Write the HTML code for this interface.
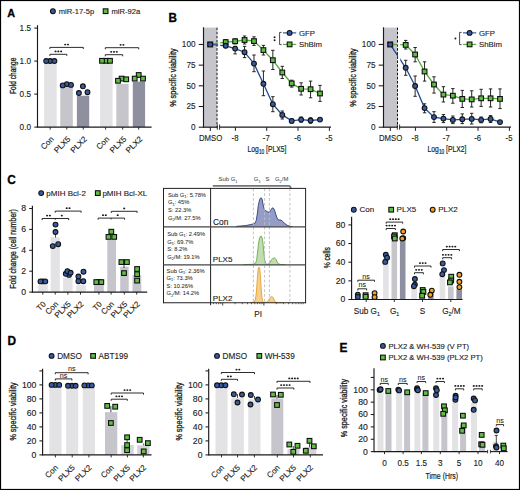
<!DOCTYPE html><html><head><meta charset="utf-8"><style>html,body{margin:0;padding:0;background:#fff;}svg{display:block;}text{font-family:'Liberation Sans', sans-serif;}</style></head><body>
<svg width="520" height="490" viewBox="0 0 520 490">
<rect x="0" y="0" width="520" height="490" fill="#fff"/>
<text transform="translate(7.2,16.7) scale(0.96,1)" font-size="11.3" text-anchor="start" font-weight="bold" fill="#000" stroke="#000" stroke-width="0.3" >A</text>
<text transform="translate(168.5,22) scale(0.96,1)" font-size="12.2" text-anchor="start" font-weight="bold" fill="#000" stroke="#000" stroke-width="0.3" >B</text>
<text transform="translate(7.2,184.3) scale(0.96,1)" font-size="12.4" text-anchor="start" font-weight="bold" fill="#000" stroke="#000" stroke-width="0.3" >C</text>
<text transform="translate(7.6,345.4) scale(0.96,1)" font-size="12.4" text-anchor="start" font-weight="bold" fill="#000" stroke="#000" stroke-width="0.3" >D</text>
<text transform="translate(339.4,351.6) scale(0.96,1)" font-size="12.4" text-anchor="start" font-weight="bold" fill="#000" stroke="#000" stroke-width="0.3" >E</text>
<circle cx="52.9" cy="11.2" r="2.4" fill="#375aa2" stroke="#111" stroke-width="1.1"/>
<text x="58.7" y="14" font-size="7.6" text-anchor="start" font-weight="normal" fill="#1a1a1a" stroke="#1a1a1a" stroke-width="0.12" >miR-17-5p</text>
<rect x="103.25" y="8.85" width="4.7" height="4.7" fill="#5fbf43" stroke="#111" stroke-width="1.1"/>
<text x="111.5" y="14" font-size="7.6" text-anchor="start" font-weight="normal" fill="#1a1a1a" stroke="#1a1a1a" stroke-width="0.12" >miR-92a</text>
<rect x="44.2" y="61.1" width="12.5" height="66" fill="#e3e3e6"/>
<rect x="60.3" y="85.85" width="12.5" height="41.25" fill="#c6c5cc"/>
<rect x="76.9" y="95.75" width="12.3" height="31.35" fill="#8f909f"/>
<rect x="100.1" y="61.1" width="12.5" height="66" fill="#e3e3e6"/>
<rect x="116.3" y="83.87" width="12.3" height="43.23" fill="#c6c5cc"/>
<rect x="132.8" y="81.56" width="12.3" height="45.54" fill="#8f909f"/>
<line x1="37.5" y1="25.2" x2="37.5" y2="127.67" stroke="#1a1a1a" stroke-width="1.15" />
<line x1="34.3" y1="28.1" x2="37.5" y2="28.1" stroke="#1a1a1a" stroke-width="1.05" />
<text x="31" y="31" font-size="8.2" text-anchor="end" font-weight="normal" fill="#1a1a1a" stroke="#1a1a1a" stroke-width="0.12" >1.5</text>
<line x1="34.3" y1="61.1" x2="37.5" y2="61.1" stroke="#1a1a1a" stroke-width="1.05" />
<text x="31" y="64" font-size="8.2" text-anchor="end" font-weight="normal" fill="#1a1a1a" stroke="#1a1a1a" stroke-width="0.12" >1.0</text>
<line x1="34.3" y1="94.1" x2="37.5" y2="94.1" stroke="#1a1a1a" stroke-width="1.05" />
<text x="31" y="97" font-size="8.2" text-anchor="end" font-weight="normal" fill="#1a1a1a" stroke="#1a1a1a" stroke-width="0.12" >0.5</text>
<line x1="34.3" y1="127.1" x2="37.5" y2="127.1" stroke="#1a1a1a" stroke-width="1.05" />
<text x="31" y="130" font-size="8.2" text-anchor="end" font-weight="normal" fill="#1a1a1a" stroke="#1a1a1a" stroke-width="0.12" >0.0</text>
<line x1="37.4" y1="127.1" x2="151.6" y2="127.1" stroke="#1a1a1a" stroke-width="1.1" />
<line x1="50.2" y1="127.1" x2="50.2" y2="129.6" stroke="#1a1a1a" stroke-width="0.9" />
<line x1="66.8" y1="127.1" x2="66.8" y2="129.6" stroke="#1a1a1a" stroke-width="0.9" />
<line x1="83.3" y1="127.1" x2="83.3" y2="129.6" stroke="#1a1a1a" stroke-width="0.9" />
<line x1="105.6" y1="127.1" x2="105.6" y2="129.6" stroke="#1a1a1a" stroke-width="0.9" />
<line x1="122.7" y1="127.1" x2="122.7" y2="129.6" stroke="#1a1a1a" stroke-width="0.9" />
<line x1="138.7" y1="127.1" x2="138.7" y2="129.6" stroke="#1a1a1a" stroke-width="0.9" />
<text transform="translate(16,75.8) rotate(-90)" font-size="9.3" text-anchor="middle" fill="#1a1a1a" stroke="#1a1a1a" stroke-width="0.3" textLength="36.4" lengthAdjust="spacingAndGlyphs" >Fold change</text>
<circle cx="50.2" cy="61" r="2.4" fill="#375aa2" stroke="#111" stroke-width="1.1"/>
<circle cx="46.2" cy="61" r="2.4" fill="#375aa2" stroke="#111" stroke-width="1.1"/>
<circle cx="54.4" cy="61" r="2.4" fill="#375aa2" stroke="#111" stroke-width="1.1"/>
<line x1="66.8" y1="82.5" x2="66.8" y2="86.5" stroke="#1a1a1a" stroke-width="0.8" />
<circle cx="66.8" cy="84.1" r="2.4" fill="#375aa2" stroke="#111" stroke-width="1.1"/>
<circle cx="62.7" cy="85.4" r="2.4" fill="#375aa2" stroke="#111" stroke-width="1.1"/>
<circle cx="71" cy="84.9" r="2.4" fill="#375aa2" stroke="#111" stroke-width="1.1"/>
<circle cx="82.9" cy="86.3" r="2.4" fill="#375aa2" stroke="#111" stroke-width="1.1"/>
<circle cx="78.9" cy="93" r="2.4" fill="#375aa2" stroke="#111" stroke-width="1.1"/>
<circle cx="87.5" cy="92.2" r="2.4" fill="#375aa2" stroke="#111" stroke-width="1.1"/>
<rect x="103.65" y="58.45" width="4.7" height="4.7" fill="#5fbf43" stroke="#111" stroke-width="1.1"/>
<rect x="99.65" y="58.45" width="4.7" height="4.7" fill="#5fbf43" stroke="#111" stroke-width="1.1"/>
<rect x="107.65" y="58.45" width="4.7" height="4.7" fill="#5fbf43" stroke="#111" stroke-width="1.1"/>
<rect x="119.25" y="76.25" width="4.7" height="4.7" fill="#5fbf43" stroke="#111" stroke-width="1.1"/>
<rect x="115.65" y="78.45" width="4.7" height="4.7" fill="#5fbf43" stroke="#111" stroke-width="1.1"/>
<rect x="123.85" y="76.95" width="4.7" height="4.7" fill="#5fbf43" stroke="#111" stroke-width="1.1"/>
<rect x="136.35" y="72.65" width="4.7" height="4.7" fill="#5fbf43" stroke="#111" stroke-width="1.1"/>
<rect x="132.35" y="76.25" width="4.7" height="4.7" fill="#5fbf43" stroke="#111" stroke-width="1.1"/>
<rect x="140.65" y="76.25" width="4.7" height="4.7" fill="#5fbf43" stroke="#111" stroke-width="1.1"/>
<path d="M49.9,49 L49.9,47.4 L83.3,47.4 L83.3,49" fill="none" stroke="#151515" stroke-width="0.9"/>
<ellipse cx="65.2" cy="44.5" rx="1.05" ry="0.85" fill="#1a1a1a"/>
<ellipse cx="68" cy="44.5" rx="1.05" ry="0.85" fill="#1a1a1a"/>
<path d="M49.9,55.9 L49.9,54.3 L66.8,54.3 L66.8,55.9" fill="none" stroke="#151515" stroke-width="0.9"/>
<ellipse cx="55.55" cy="51.4" rx="1.05" ry="0.85" fill="#1a1a1a"/>
<ellipse cx="58.35" cy="51.4" rx="1.05" ry="0.85" fill="#1a1a1a"/>
<ellipse cx="61.15" cy="51.4" rx="1.05" ry="0.85" fill="#1a1a1a"/>
<path d="M105.3,49.3 L105.3,47.7 L138.7,47.7 L138.7,49.3" fill="none" stroke="#151515" stroke-width="0.9"/>
<ellipse cx="120.6" cy="44.8" rx="1.05" ry="0.85" fill="#1a1a1a"/>
<ellipse cx="123.4" cy="44.8" rx="1.05" ry="0.85" fill="#1a1a1a"/>
<path d="M105.3,56.3 L105.3,54.7 L122.7,54.7 L122.7,56.3" fill="none" stroke="#151515" stroke-width="0.9"/>
<ellipse cx="111.2" cy="51.8" rx="1.05" ry="0.85" fill="#1a1a1a"/>
<ellipse cx="114" cy="51.8" rx="1.05" ry="0.85" fill="#1a1a1a"/>
<ellipse cx="116.8" cy="51.8" rx="1.05" ry="0.85" fill="#1a1a1a"/>
<text transform="translate(54.4,139.7) rotate(-45) scale(1,1)" font-size="8" text-anchor="end" fill="#1a1a1a" stroke="#1a1a1a" stroke-width="0.12" >Con</text>
<text transform="translate(71,139.7) rotate(-45) scale(1,1)" font-size="8" text-anchor="end" fill="#1a1a1a" stroke="#1a1a1a" stroke-width="0.12" >PLX5</text>
<text transform="translate(87.5,139.7) rotate(-45) scale(1,1)" font-size="8" text-anchor="end" fill="#1a1a1a" stroke="#1a1a1a" stroke-width="0.12" >PLX2</text>
<text transform="translate(109.8,139.7) rotate(-45) scale(1,1)" font-size="8" text-anchor="end" fill="#1a1a1a" stroke="#1a1a1a" stroke-width="0.12" >Con</text>
<text transform="translate(126.9,139.7) rotate(-45) scale(1,1)" font-size="8" text-anchor="end" fill="#1a1a1a" stroke="#1a1a1a" stroke-width="0.12" >PLX5</text>
<text transform="translate(142.9,139.7) rotate(-45) scale(1,1)" font-size="8" text-anchor="end" fill="#1a1a1a" stroke="#1a1a1a" stroke-width="0.12" >PLX2</text>
<rect x="203.5" y="27.6" width="13.3" height="99.6" fill="#c6c5cc"/>
<line x1="217" y1="27.6" x2="217" y2="127.2" stroke="#111" stroke-width="1" stroke-dasharray="2.6,1.5"/>
<line x1="203.5" y1="27.3" x2="203.5" y2="127.78" stroke="#1a1a1a" stroke-width="1.15" />
<line x1="198.7" y1="44.44" x2="203.5" y2="44.44" stroke="#1a1a1a" stroke-width="1.05" />
<text x="195.5" y="47.34" font-size="8.2" text-anchor="end" font-weight="normal" fill="#1a1a1a" stroke="#1a1a1a" stroke-width="0.12" >100</text>
<line x1="198.7" y1="65.13" x2="203.5" y2="65.13" stroke="#1a1a1a" stroke-width="1.05" />
<text x="195.5" y="68.03" font-size="8.2" text-anchor="end" font-weight="normal" fill="#1a1a1a" stroke="#1a1a1a" stroke-width="0.12" >75</text>
<line x1="198.7" y1="85.82" x2="203.5" y2="85.82" stroke="#1a1a1a" stroke-width="1.05" />
<text x="195.5" y="88.72" font-size="8.2" text-anchor="end" font-weight="normal" fill="#1a1a1a" stroke="#1a1a1a" stroke-width="0.12" >50</text>
<line x1="198.7" y1="106.51" x2="203.5" y2="106.51" stroke="#1a1a1a" stroke-width="1.05" />
<text x="195.5" y="109.41" font-size="8.2" text-anchor="end" font-weight="normal" fill="#1a1a1a" stroke="#1a1a1a" stroke-width="0.12" >25</text>
<line x1="198.7" y1="127.2" x2="203.5" y2="127.2" stroke="#1a1a1a" stroke-width="1.05" />
<text x="195.5" y="130.1" font-size="8.2" text-anchor="end" font-weight="normal" fill="#1a1a1a" stroke="#1a1a1a" stroke-width="0.12" >0</text>
<line x1="203.5" y1="127.2" x2="217.3" y2="127.2" stroke="#1a1a1a" stroke-width="1.2" />
<line x1="210.3" y1="127.2" x2="210.3" y2="131" stroke="#1a1a1a" stroke-width="1" />
<line x1="217.3" y1="124.5" x2="217.3" y2="129.7" stroke="#1a1a1a" stroke-width="0.9" />
<line x1="219.6" y1="124.5" x2="219.6" y2="129.7" stroke="#1a1a1a" stroke-width="0.9" />
<line x1="219.6" y1="127.2" x2="331" y2="127.2" stroke="#1a1a1a" stroke-width="1.2" />
<line x1="235.4" y1="127.2" x2="235.4" y2="130.8" stroke="#1a1a1a" stroke-width="1" />
<line x1="266.7" y1="127.2" x2="266.7" y2="130.8" stroke="#1a1a1a" stroke-width="1" />
<line x1="298" y1="127.2" x2="298" y2="130.8" stroke="#1a1a1a" stroke-width="1" />
<line x1="329.4" y1="127.2" x2="329.4" y2="130.8" stroke="#1a1a1a" stroke-width="1" />
<text transform="translate(210.6,140.6) scale(0.95,1)" font-size="8.2" text-anchor="middle" font-weight="normal" fill="#1a1a1a" stroke="#1a1a1a" stroke-width="0.12" >DMSO</text>
<text transform="translate(235,140.6) scale(0.95,1)" font-size="8.2" text-anchor="middle" font-weight="normal" fill="#1a1a1a" stroke="#1a1a1a" stroke-width="0.12" >-8</text>
<text transform="translate(266.3,140.6) scale(0.95,1)" font-size="8.2" text-anchor="middle" font-weight="normal" fill="#1a1a1a" stroke="#1a1a1a" stroke-width="0.12" >-7</text>
<text transform="translate(297.6,140.6) scale(0.95,1)" font-size="8.2" text-anchor="middle" font-weight="normal" fill="#1a1a1a" stroke="#1a1a1a" stroke-width="0.12" >-6</text>
<text transform="translate(329,140.6) scale(0.95,1)" font-size="8.2" text-anchor="middle" font-weight="normal" fill="#1a1a1a" stroke="#1a1a1a" stroke-width="0.12" >-5</text>
<text x="247.6" y="152.4" font-size="9.6" fill="#1a1a1a" stroke="#1a1a1a" stroke-width="0.2" textLength="38.8" lengthAdjust="spacingAndGlyphs">Log<tspan font-size="6.8" dy="2.0">10</tspan><tspan dy="-2.0"> [PLX5]</tspan></text>
<text transform="translate(176,77.6) rotate(-90)" font-size="8.8" text-anchor="middle" fill="#1a1a1a" stroke="#1a1a1a" stroke-width="0.3" textLength="58.5" lengthAdjust="spacingAndGlyphs" >% specific viability</text>
<polyline points="210.2,44.44 225.7,42.1 235.13,41.3 244.56,40 253.99,41.1 263.42,50.1 272.85,60.2 282.28,72.5 291.71,83.4 301.14,88.8 310.57,89.2 320,93.5" fill="none" stroke="#56a83a" stroke-width="1.3"/>
<polyline points="210.2,44.44 225.7,45.8 235.13,48.6 244.56,52.2 253.99,63.6 263.42,83.8 272.85,104.2 282.28,114.9 291.71,120.9 301.14,119.6 310.57,120.5 320,119.6" fill="none" stroke="#234a8f" stroke-width="1.3"/>
<rect x="218.1" y="28" width="2.1" height="95" fill="#fff"/>
<line x1="225.7" y1="39.6" x2="225.7" y2="44.6" stroke="#1a1a1a" stroke-width="0.95" />
<line x1="224" y1="39.6" x2="227.4" y2="39.6" stroke="#1a1a1a" stroke-width="0.95" />
<line x1="224" y1="44.6" x2="227.4" y2="44.6" stroke="#1a1a1a" stroke-width="0.95" />
<line x1="235.13" y1="38.8" x2="235.13" y2="43.8" stroke="#1a1a1a" stroke-width="0.95" />
<line x1="233.43" y1="38.8" x2="236.83" y2="38.8" stroke="#1a1a1a" stroke-width="0.95" />
<line x1="233.43" y1="43.8" x2="236.83" y2="43.8" stroke="#1a1a1a" stroke-width="0.95" />
<line x1="244.56" y1="36" x2="244.56" y2="44" stroke="#1a1a1a" stroke-width="0.95" />
<line x1="242.86" y1="36" x2="246.26" y2="36" stroke="#1a1a1a" stroke-width="0.95" />
<line x1="242.86" y1="44" x2="246.26" y2="44" stroke="#1a1a1a" stroke-width="0.95" />
<line x1="253.99" y1="36.8" x2="253.99" y2="45.4" stroke="#1a1a1a" stroke-width="0.95" />
<line x1="252.29" y1="36.8" x2="255.69" y2="36.8" stroke="#1a1a1a" stroke-width="0.95" />
<line x1="252.29" y1="45.4" x2="255.69" y2="45.4" stroke="#1a1a1a" stroke-width="0.95" />
<line x1="263.42" y1="45.4" x2="263.42" y2="55" stroke="#1a1a1a" stroke-width="0.95" />
<line x1="261.72" y1="45.4" x2="265.12" y2="45.4" stroke="#1a1a1a" stroke-width="0.95" />
<line x1="261.72" y1="55" x2="265.12" y2="55" stroke="#1a1a1a" stroke-width="0.95" />
<line x1="272.85" y1="50.3" x2="272.85" y2="69.5" stroke="#1a1a1a" stroke-width="0.95" />
<line x1="271.15" y1="50.3" x2="274.55" y2="50.3" stroke="#1a1a1a" stroke-width="0.95" />
<line x1="271.15" y1="69.5" x2="274.55" y2="69.5" stroke="#1a1a1a" stroke-width="0.95" />
<line x1="282.28" y1="66.3" x2="282.28" y2="78.5" stroke="#1a1a1a" stroke-width="0.95" />
<line x1="280.58" y1="66.3" x2="283.98" y2="66.3" stroke="#1a1a1a" stroke-width="0.95" />
<line x1="280.58" y1="78.5" x2="283.98" y2="78.5" stroke="#1a1a1a" stroke-width="0.95" />
<line x1="291.71" y1="80.2" x2="291.71" y2="87.1" stroke="#1a1a1a" stroke-width="0.95" />
<line x1="290.01" y1="80.2" x2="293.41" y2="80.2" stroke="#1a1a1a" stroke-width="0.95" />
<line x1="290.01" y1="87.1" x2="293.41" y2="87.1" stroke="#1a1a1a" stroke-width="0.95" />
<line x1="301.14" y1="82.8" x2="301.14" y2="95" stroke="#1a1a1a" stroke-width="0.95" />
<line x1="299.44" y1="82.8" x2="302.84" y2="82.8" stroke="#1a1a1a" stroke-width="0.95" />
<line x1="299.44" y1="95" x2="302.84" y2="95" stroke="#1a1a1a" stroke-width="0.95" />
<line x1="310.57" y1="81.1" x2="310.57" y2="97.8" stroke="#1a1a1a" stroke-width="0.95" />
<line x1="308.87" y1="81.1" x2="312.27" y2="81.1" stroke="#1a1a1a" stroke-width="0.95" />
<line x1="308.87" y1="97.8" x2="312.27" y2="97.8" stroke="#1a1a1a" stroke-width="0.95" />
<line x1="320" y1="85.4" x2="320" y2="101.4" stroke="#1a1a1a" stroke-width="0.95" />
<line x1="318.3" y1="85.4" x2="321.7" y2="85.4" stroke="#1a1a1a" stroke-width="0.95" />
<line x1="318.3" y1="101.4" x2="321.7" y2="101.4" stroke="#1a1a1a" stroke-width="0.95" />
<line x1="225.7" y1="44" x2="225.7" y2="47.6" stroke="#1a1a1a" stroke-width="0.95" />
<line x1="224" y1="44" x2="227.4" y2="44" stroke="#1a1a1a" stroke-width="0.95" />
<line x1="224" y1="47.6" x2="227.4" y2="47.6" stroke="#1a1a1a" stroke-width="0.95" />
<line x1="235.13" y1="46.4" x2="235.13" y2="53.9" stroke="#1a1a1a" stroke-width="0.95" />
<line x1="233.43" y1="46.4" x2="236.83" y2="46.4" stroke="#1a1a1a" stroke-width="0.95" />
<line x1="233.43" y1="53.9" x2="236.83" y2="53.9" stroke="#1a1a1a" stroke-width="0.95" />
<line x1="244.56" y1="46.4" x2="244.56" y2="57.6" stroke="#1a1a1a" stroke-width="0.95" />
<line x1="242.86" y1="46.4" x2="246.26" y2="46.4" stroke="#1a1a1a" stroke-width="0.95" />
<line x1="242.86" y1="57.6" x2="246.26" y2="57.6" stroke="#1a1a1a" stroke-width="0.95" />
<line x1="253.99" y1="55" x2="253.99" y2="71.7" stroke="#1a1a1a" stroke-width="0.95" />
<line x1="252.29" y1="55" x2="255.69" y2="55" stroke="#1a1a1a" stroke-width="0.95" />
<line x1="252.29" y1="71.7" x2="255.69" y2="71.7" stroke="#1a1a1a" stroke-width="0.95" />
<line x1="263.42" y1="71" x2="263.42" y2="95.7" stroke="#1a1a1a" stroke-width="0.95" />
<line x1="261.72" y1="71" x2="265.12" y2="71" stroke="#1a1a1a" stroke-width="0.95" />
<line x1="261.72" y1="95.7" x2="265.12" y2="95.7" stroke="#1a1a1a" stroke-width="0.95" />
<line x1="272.85" y1="96.7" x2="272.85" y2="111.7" stroke="#1a1a1a" stroke-width="0.95" />
<line x1="271.15" y1="96.7" x2="274.55" y2="96.7" stroke="#1a1a1a" stroke-width="0.95" />
<line x1="271.15" y1="111.7" x2="274.55" y2="111.7" stroke="#1a1a1a" stroke-width="0.95" />
<line x1="282.28" y1="111" x2="282.28" y2="119" stroke="#1a1a1a" stroke-width="0.95" />
<line x1="280.58" y1="111" x2="283.98" y2="111" stroke="#1a1a1a" stroke-width="0.95" />
<line x1="280.58" y1="119" x2="283.98" y2="119" stroke="#1a1a1a" stroke-width="0.95" />
<line x1="291.71" y1="118.9" x2="291.71" y2="122.9" stroke="#1a1a1a" stroke-width="0.95" />
<line x1="290.01" y1="118.9" x2="293.41" y2="118.9" stroke="#1a1a1a" stroke-width="0.95" />
<line x1="290.01" y1="122.9" x2="293.41" y2="122.9" stroke="#1a1a1a" stroke-width="0.95" />
<line x1="301.14" y1="117" x2="301.14" y2="122.2" stroke="#1a1a1a" stroke-width="0.95" />
<line x1="299.44" y1="117" x2="302.84" y2="117" stroke="#1a1a1a" stroke-width="0.95" />
<line x1="299.44" y1="122.2" x2="302.84" y2="122.2" stroke="#1a1a1a" stroke-width="0.95" />
<line x1="310.57" y1="117.8" x2="310.57" y2="123.2" stroke="#1a1a1a" stroke-width="0.95" />
<line x1="308.87" y1="117.8" x2="312.27" y2="117.8" stroke="#1a1a1a" stroke-width="0.95" />
<line x1="308.87" y1="123.2" x2="312.27" y2="123.2" stroke="#1a1a1a" stroke-width="0.95" />
<rect x="207.75" y="41.99" width="4.9" height="4.9" fill="#111" stroke="#111" stroke-width="1.1"/>
<circle cx="210.2" cy="44.44" r="2.0" fill="#375aa2"/>
<rect x="223.35" y="39.75" width="4.7" height="4.7" fill="#5fbf43" stroke="#111" stroke-width="1.1"/>
<rect x="232.78" y="38.95" width="4.7" height="4.7" fill="#5fbf43" stroke="#111" stroke-width="1.1"/>
<rect x="242.21" y="37.65" width="4.7" height="4.7" fill="#5fbf43" stroke="#111" stroke-width="1.1"/>
<rect x="251.64" y="38.75" width="4.7" height="4.7" fill="#5fbf43" stroke="#111" stroke-width="1.1"/>
<rect x="261.07" y="47.75" width="4.7" height="4.7" fill="#5fbf43" stroke="#111" stroke-width="1.1"/>
<rect x="270.5" y="57.85" width="4.7" height="4.7" fill="#5fbf43" stroke="#111" stroke-width="1.1"/>
<rect x="279.93" y="70.15" width="4.7" height="4.7" fill="#5fbf43" stroke="#111" stroke-width="1.1"/>
<rect x="289.36" y="81.05" width="4.7" height="4.7" fill="#5fbf43" stroke="#111" stroke-width="1.1"/>
<rect x="298.79" y="86.45" width="4.7" height="4.7" fill="#5fbf43" stroke="#111" stroke-width="1.1"/>
<rect x="308.22" y="86.85" width="4.7" height="4.7" fill="#5fbf43" stroke="#111" stroke-width="1.1"/>
<rect x="317.65" y="91.15" width="4.7" height="4.7" fill="#5fbf43" stroke="#111" stroke-width="1.1"/>
<circle cx="225.7" cy="45.8" r="2.4" fill="#375aa2" stroke="#111" stroke-width="1.1"/>
<circle cx="235.13" cy="48.6" r="2.4" fill="#375aa2" stroke="#111" stroke-width="1.1"/>
<circle cx="244.56" cy="52.2" r="2.4" fill="#375aa2" stroke="#111" stroke-width="1.1"/>
<circle cx="253.99" cy="63.6" r="2.4" fill="#375aa2" stroke="#111" stroke-width="1.1"/>
<circle cx="263.42" cy="83.8" r="2.4" fill="#375aa2" stroke="#111" stroke-width="1.1"/>
<circle cx="272.85" cy="104.2" r="2.4" fill="#375aa2" stroke="#111" stroke-width="1.1"/>
<circle cx="282.28" cy="114.9" r="2.4" fill="#375aa2" stroke="#111" stroke-width="1.1"/>
<circle cx="291.71" cy="120.9" r="2.4" fill="#375aa2" stroke="#111" stroke-width="1.1"/>
<circle cx="301.14" cy="119.6" r="2.4" fill="#375aa2" stroke="#111" stroke-width="1.1"/>
<circle cx="310.57" cy="120.5" r="2.4" fill="#375aa2" stroke="#111" stroke-width="1.1"/>
<circle cx="320" cy="119.6" r="2.4" fill="#375aa2" stroke="#111" stroke-width="1.1"/>
<path d="M281.6,32.4 L279.6,32.4 L279.6,44.6 L281.6,44.6" fill="none" stroke="#1a1a1a" stroke-width="0.8"/>
<circle cx="274.6" cy="37.3" r="0.95" fill="#1a1a1a"/><circle cx="274.6" cy="40.3" r="0.95" fill="#1a1a1a"/>
<line x1="283" y1="32.9" x2="296.2" y2="32.9" stroke="#234a8f" stroke-width="1.1" />
<circle cx="289.6" cy="32.9" r="2.4" fill="#375aa2" stroke="#111" stroke-width="1.1"/>
<line x1="283" y1="44.4" x2="296.2" y2="44.4" stroke="#56a83a" stroke-width="1.1" />
<rect x="287.25" y="42.05" width="4.7" height="4.7" fill="#5fbf43" stroke="#111" stroke-width="1.1"/>
<text x="299" y="35.9" font-size="7.8" text-anchor="start" font-weight="normal" fill="#1a1a1a" stroke="#1a1a1a" stroke-width="0.12" >GFP</text>
<text x="299" y="47.4" font-size="7.8" text-anchor="start" font-weight="normal" fill="#1a1a1a" stroke="#1a1a1a" stroke-width="0.12" >ShBim</text>
<rect x="383.5" y="27.6" width="13.8" height="99.6" fill="#c6c5cc"/>
<line x1="397.5" y1="27.6" x2="397.5" y2="127.2" stroke="#111" stroke-width="1" stroke-dasharray="2.6,1.5"/>
<line x1="383.5" y1="27.3" x2="383.5" y2="127.78" stroke="#1a1a1a" stroke-width="1.15" />
<line x1="378.7" y1="44.44" x2="383.5" y2="44.44" stroke="#1a1a1a" stroke-width="1.05" />
<text x="375.5" y="47.34" font-size="8.2" text-anchor="end" font-weight="normal" fill="#1a1a1a" stroke="#1a1a1a" stroke-width="0.12" >100</text>
<line x1="378.7" y1="65.13" x2="383.5" y2="65.13" stroke="#1a1a1a" stroke-width="1.05" />
<text x="375.5" y="68.03" font-size="8.2" text-anchor="end" font-weight="normal" fill="#1a1a1a" stroke="#1a1a1a" stroke-width="0.12" >75</text>
<line x1="378.7" y1="85.82" x2="383.5" y2="85.82" stroke="#1a1a1a" stroke-width="1.05" />
<text x="375.5" y="88.72" font-size="8.2" text-anchor="end" font-weight="normal" fill="#1a1a1a" stroke="#1a1a1a" stroke-width="0.12" >50</text>
<line x1="378.7" y1="106.51" x2="383.5" y2="106.51" stroke="#1a1a1a" stroke-width="1.05" />
<text x="375.5" y="109.41" font-size="8.2" text-anchor="end" font-weight="normal" fill="#1a1a1a" stroke="#1a1a1a" stroke-width="0.12" >25</text>
<line x1="378.7" y1="127.2" x2="383.5" y2="127.2" stroke="#1a1a1a" stroke-width="1.05" />
<text x="375.5" y="130.1" font-size="8.2" text-anchor="end" font-weight="normal" fill="#1a1a1a" stroke="#1a1a1a" stroke-width="0.12" >0</text>
<line x1="383.5" y1="127.2" x2="397.3" y2="127.2" stroke="#1a1a1a" stroke-width="1.2" />
<line x1="390.3" y1="127.2" x2="390.3" y2="131" stroke="#1a1a1a" stroke-width="1" />
<line x1="397.3" y1="124.5" x2="397.3" y2="129.7" stroke="#1a1a1a" stroke-width="0.9" />
<line x1="399.6" y1="124.5" x2="399.6" y2="129.7" stroke="#1a1a1a" stroke-width="0.9" />
<line x1="399.6" y1="127.2" x2="511" y2="127.2" stroke="#1a1a1a" stroke-width="1.2" />
<line x1="415.4" y1="127.2" x2="415.4" y2="130.8" stroke="#1a1a1a" stroke-width="1" />
<line x1="446.7" y1="127.2" x2="446.7" y2="130.8" stroke="#1a1a1a" stroke-width="1" />
<line x1="478" y1="127.2" x2="478" y2="130.8" stroke="#1a1a1a" stroke-width="1" />
<line x1="509.4" y1="127.2" x2="509.4" y2="130.8" stroke="#1a1a1a" stroke-width="1" />
<text transform="translate(390.6,140.6) scale(0.95,1)" font-size="8.2" text-anchor="middle" font-weight="normal" fill="#1a1a1a" stroke="#1a1a1a" stroke-width="0.12" >DMSO</text>
<text transform="translate(415,140.6) scale(0.95,1)" font-size="8.2" text-anchor="middle" font-weight="normal" fill="#1a1a1a" stroke="#1a1a1a" stroke-width="0.12" >-8</text>
<text transform="translate(446.3,140.6) scale(0.95,1)" font-size="8.2" text-anchor="middle" font-weight="normal" fill="#1a1a1a" stroke="#1a1a1a" stroke-width="0.12" >-7</text>
<text transform="translate(477.6,140.6) scale(0.95,1)" font-size="8.2" text-anchor="middle" font-weight="normal" fill="#1a1a1a" stroke="#1a1a1a" stroke-width="0.12" >-6</text>
<text transform="translate(509,140.6) scale(0.95,1)" font-size="8.2" text-anchor="middle" font-weight="normal" fill="#1a1a1a" stroke="#1a1a1a" stroke-width="0.12" >-5</text>
<text x="427.6" y="152.4" font-size="9.6" fill="#1a1a1a" stroke="#1a1a1a" stroke-width="0.2" textLength="38.8" lengthAdjust="spacingAndGlyphs">Log<tspan font-size="6.8" dy="2.0">10</tspan><tspan dy="-2.0"> [PLX2]</tspan></text>
<text transform="translate(356,77.6) rotate(-90)" font-size="8.8" text-anchor="middle" fill="#1a1a1a" stroke="#1a1a1a" stroke-width="0.3" textLength="58.5" lengthAdjust="spacingAndGlyphs" >% specific viability</text>
<polyline points="390.2,44.44 405.7,44.9 415.13,54.5 424.56,71.5 433.99,84.5 443.42,94.6 452.85,95.7 462.28,98.9 471.71,99.4 481.14,98.3 490.57,98.3 500,98.9" fill="none" stroke="#56a83a" stroke-width="1.3"/>
<polyline points="390.2,44.44 405.7,67.8 415.13,86 424.56,108.1 433.99,117.1 443.42,118.6 452.85,119.9 462.28,119.3 471.71,118.9 481.14,119.9 490.57,118.9 500,122.1" fill="none" stroke="#234a8f" stroke-width="1.3"/>
<rect x="398.1" y="28" width="2.1" height="95" fill="#fff"/>
<line x1="405.7" y1="40.4" x2="405.7" y2="49" stroke="#1a1a1a" stroke-width="0.95" />
<line x1="404" y1="40.4" x2="407.4" y2="40.4" stroke="#1a1a1a" stroke-width="0.95" />
<line x1="404" y1="49" x2="407.4" y2="49" stroke="#1a1a1a" stroke-width="0.95" />
<line x1="415.13" y1="47.5" x2="415.13" y2="61.8" stroke="#1a1a1a" stroke-width="0.95" />
<line x1="413.43" y1="47.5" x2="416.83" y2="47.5" stroke="#1a1a1a" stroke-width="0.95" />
<line x1="413.43" y1="61.8" x2="416.83" y2="61.8" stroke="#1a1a1a" stroke-width="0.95" />
<line x1="424.56" y1="61.8" x2="424.56" y2="81.1" stroke="#1a1a1a" stroke-width="0.95" />
<line x1="422.86" y1="61.8" x2="426.26" y2="61.8" stroke="#1a1a1a" stroke-width="0.95" />
<line x1="422.86" y1="81.1" x2="426.26" y2="81.1" stroke="#1a1a1a" stroke-width="0.95" />
<line x1="433.99" y1="76.8" x2="433.99" y2="93.1" stroke="#1a1a1a" stroke-width="0.95" />
<line x1="432.29" y1="76.8" x2="435.69" y2="76.8" stroke="#1a1a1a" stroke-width="0.95" />
<line x1="432.29" y1="93.1" x2="435.69" y2="93.1" stroke="#1a1a1a" stroke-width="0.95" />
<line x1="443.42" y1="86.7" x2="443.42" y2="102" stroke="#1a1a1a" stroke-width="0.95" />
<line x1="441.72" y1="86.7" x2="445.12" y2="86.7" stroke="#1a1a1a" stroke-width="0.95" />
<line x1="441.72" y1="102" x2="445.12" y2="102" stroke="#1a1a1a" stroke-width="0.95" />
<line x1="452.85" y1="88.6" x2="452.85" y2="103.2" stroke="#1a1a1a" stroke-width="0.95" />
<line x1="451.15" y1="88.6" x2="454.55" y2="88.6" stroke="#1a1a1a" stroke-width="0.95" />
<line x1="451.15" y1="103.2" x2="454.55" y2="103.2" stroke="#1a1a1a" stroke-width="0.95" />
<line x1="462.28" y1="90.4" x2="462.28" y2="107.5" stroke="#1a1a1a" stroke-width="0.95" />
<line x1="460.58" y1="90.4" x2="463.98" y2="90.4" stroke="#1a1a1a" stroke-width="0.95" />
<line x1="460.58" y1="107.5" x2="463.98" y2="107.5" stroke="#1a1a1a" stroke-width="0.95" />
<line x1="471.71" y1="90.8" x2="471.71" y2="107" stroke="#1a1a1a" stroke-width="0.95" />
<line x1="470.01" y1="90.8" x2="473.41" y2="90.8" stroke="#1a1a1a" stroke-width="0.95" />
<line x1="470.01" y1="107" x2="473.41" y2="107" stroke="#1a1a1a" stroke-width="0.95" />
<line x1="481.14" y1="89.3" x2="481.14" y2="106.4" stroke="#1a1a1a" stroke-width="0.95" />
<line x1="479.44" y1="89.3" x2="482.84" y2="89.3" stroke="#1a1a1a" stroke-width="0.95" />
<line x1="479.44" y1="106.4" x2="482.84" y2="106.4" stroke="#1a1a1a" stroke-width="0.95" />
<line x1="490.57" y1="88.9" x2="490.57" y2="107" stroke="#1a1a1a" stroke-width="0.95" />
<line x1="488.87" y1="88.9" x2="492.27" y2="88.9" stroke="#1a1a1a" stroke-width="0.95" />
<line x1="488.87" y1="107" x2="492.27" y2="107" stroke="#1a1a1a" stroke-width="0.95" />
<line x1="500" y1="88.9" x2="500" y2="108.6" stroke="#1a1a1a" stroke-width="0.95" />
<line x1="498.3" y1="88.9" x2="501.7" y2="88.9" stroke="#1a1a1a" stroke-width="0.95" />
<line x1="498.3" y1="108.6" x2="501.7" y2="108.6" stroke="#1a1a1a" stroke-width="0.95" />
<line x1="405.7" y1="60.3" x2="405.7" y2="75.3" stroke="#1a1a1a" stroke-width="0.95" />
<line x1="404" y1="60.3" x2="407.4" y2="60.3" stroke="#1a1a1a" stroke-width="0.95" />
<line x1="404" y1="75.3" x2="407.4" y2="75.3" stroke="#1a1a1a" stroke-width="0.95" />
<line x1="415.13" y1="76" x2="415.13" y2="96.3" stroke="#1a1a1a" stroke-width="0.95" />
<line x1="413.43" y1="76" x2="416.83" y2="76" stroke="#1a1a1a" stroke-width="0.95" />
<line x1="413.43" y1="96.3" x2="416.83" y2="96.3" stroke="#1a1a1a" stroke-width="0.95" />
<line x1="424.56" y1="103.8" x2="424.56" y2="112.8" stroke="#1a1a1a" stroke-width="0.95" />
<line x1="422.86" y1="103.8" x2="426.26" y2="103.8" stroke="#1a1a1a" stroke-width="0.95" />
<line x1="422.86" y1="112.8" x2="426.26" y2="112.8" stroke="#1a1a1a" stroke-width="0.95" />
<line x1="433.99" y1="111.7" x2="433.99" y2="122.4" stroke="#1a1a1a" stroke-width="0.95" />
<line x1="432.29" y1="111.7" x2="435.69" y2="111.7" stroke="#1a1a1a" stroke-width="0.95" />
<line x1="432.29" y1="122.4" x2="435.69" y2="122.4" stroke="#1a1a1a" stroke-width="0.95" />
<line x1="443.42" y1="114.6" x2="443.42" y2="122.6" stroke="#1a1a1a" stroke-width="0.95" />
<line x1="441.72" y1="114.6" x2="445.12" y2="114.6" stroke="#1a1a1a" stroke-width="0.95" />
<line x1="441.72" y1="122.6" x2="445.12" y2="122.6" stroke="#1a1a1a" stroke-width="0.95" />
<line x1="452.85" y1="116" x2="452.85" y2="123.6" stroke="#1a1a1a" stroke-width="0.95" />
<line x1="451.15" y1="116" x2="454.55" y2="116" stroke="#1a1a1a" stroke-width="0.95" />
<line x1="451.15" y1="123.6" x2="454.55" y2="123.6" stroke="#1a1a1a" stroke-width="0.95" />
<line x1="462.28" y1="113.9" x2="462.28" y2="123.6" stroke="#1a1a1a" stroke-width="0.95" />
<line x1="460.58" y1="113.9" x2="463.98" y2="113.9" stroke="#1a1a1a" stroke-width="0.95" />
<line x1="460.58" y1="123.6" x2="463.98" y2="123.6" stroke="#1a1a1a" stroke-width="0.95" />
<line x1="471.71" y1="113.3" x2="471.71" y2="124" stroke="#1a1a1a" stroke-width="0.95" />
<line x1="470.01" y1="113.3" x2="473.41" y2="113.3" stroke="#1a1a1a" stroke-width="0.95" />
<line x1="470.01" y1="124" x2="473.41" y2="124" stroke="#1a1a1a" stroke-width="0.95" />
<line x1="481.14" y1="117" x2="481.14" y2="122.8" stroke="#1a1a1a" stroke-width="0.95" />
<line x1="479.44" y1="117" x2="482.84" y2="117" stroke="#1a1a1a" stroke-width="0.95" />
<line x1="479.44" y1="122.8" x2="482.84" y2="122.8" stroke="#1a1a1a" stroke-width="0.95" />
<line x1="490.57" y1="115.6" x2="490.57" y2="122.5" stroke="#1a1a1a" stroke-width="0.95" />
<line x1="488.87" y1="115.6" x2="492.27" y2="115.6" stroke="#1a1a1a" stroke-width="0.95" />
<line x1="488.87" y1="122.5" x2="492.27" y2="122.5" stroke="#1a1a1a" stroke-width="0.95" />
<rect x="387.75" y="41.99" width="4.9" height="4.9" fill="#111" stroke="#111" stroke-width="1.1"/>
<circle cx="390.2" cy="44.44" r="2.0" fill="#375aa2"/>
<rect x="403.35" y="42.55" width="4.7" height="4.7" fill="#5fbf43" stroke="#111" stroke-width="1.1"/>
<rect x="412.78" y="52.15" width="4.7" height="4.7" fill="#5fbf43" stroke="#111" stroke-width="1.1"/>
<rect x="422.21" y="69.15" width="4.7" height="4.7" fill="#5fbf43" stroke="#111" stroke-width="1.1"/>
<rect x="431.64" y="82.15" width="4.7" height="4.7" fill="#5fbf43" stroke="#111" stroke-width="1.1"/>
<rect x="441.07" y="92.25" width="4.7" height="4.7" fill="#5fbf43" stroke="#111" stroke-width="1.1"/>
<rect x="450.5" y="93.35" width="4.7" height="4.7" fill="#5fbf43" stroke="#111" stroke-width="1.1"/>
<rect x="459.93" y="96.55" width="4.7" height="4.7" fill="#5fbf43" stroke="#111" stroke-width="1.1"/>
<rect x="469.36" y="97.05" width="4.7" height="4.7" fill="#5fbf43" stroke="#111" stroke-width="1.1"/>
<rect x="478.79" y="95.95" width="4.7" height="4.7" fill="#5fbf43" stroke="#111" stroke-width="1.1"/>
<rect x="488.22" y="95.95" width="4.7" height="4.7" fill="#5fbf43" stroke="#111" stroke-width="1.1"/>
<rect x="497.65" y="96.55" width="4.7" height="4.7" fill="#5fbf43" stroke="#111" stroke-width="1.1"/>
<circle cx="405.7" cy="67.8" r="2.4" fill="#375aa2" stroke="#111" stroke-width="1.1"/>
<circle cx="415.13" cy="86" r="2.4" fill="#375aa2" stroke="#111" stroke-width="1.1"/>
<circle cx="424.56" cy="108.1" r="2.4" fill="#375aa2" stroke="#111" stroke-width="1.1"/>
<circle cx="433.99" cy="117.1" r="2.4" fill="#375aa2" stroke="#111" stroke-width="1.1"/>
<circle cx="443.42" cy="118.6" r="2.4" fill="#375aa2" stroke="#111" stroke-width="1.1"/>
<circle cx="452.85" cy="119.9" r="2.4" fill="#375aa2" stroke="#111" stroke-width="1.1"/>
<circle cx="462.28" cy="119.3" r="2.4" fill="#375aa2" stroke="#111" stroke-width="1.1"/>
<circle cx="471.71" cy="118.9" r="2.4" fill="#375aa2" stroke="#111" stroke-width="1.1"/>
<circle cx="481.14" cy="119.9" r="2.4" fill="#375aa2" stroke="#111" stroke-width="1.1"/>
<circle cx="490.57" cy="118.9" r="2.4" fill="#375aa2" stroke="#111" stroke-width="1.1"/>
<circle cx="500" cy="122.1" r="2.4" fill="#375aa2" stroke="#111" stroke-width="1.1"/>
<path d="M461.6,32.4 L459.6,32.4 L459.6,44.6 L461.6,44.6" fill="none" stroke="#1a1a1a" stroke-width="0.8"/>
<circle cx="455.4" cy="38.5" r="0.95" fill="#1a1a1a"/>
<line x1="463" y1="32.9" x2="476.2" y2="32.9" stroke="#234a8f" stroke-width="1.1" />
<circle cx="469.6" cy="32.9" r="2.4" fill="#375aa2" stroke="#111" stroke-width="1.1"/>
<line x1="463" y1="44.4" x2="476.2" y2="44.4" stroke="#56a83a" stroke-width="1.1" />
<rect x="467.25" y="42.05" width="4.7" height="4.7" fill="#5fbf43" stroke="#111" stroke-width="1.1"/>
<text x="479" y="35.9" font-size="7.8" text-anchor="start" font-weight="normal" fill="#1a1a1a" stroke="#1a1a1a" stroke-width="0.12" >GFP</text>
<text x="479" y="47.4" font-size="7.8" text-anchor="start" font-weight="normal" fill="#1a1a1a" stroke="#1a1a1a" stroke-width="0.12" >ShBim</text>
<circle cx="41.2" cy="193.1" r="2.4" fill="#375aa2" stroke="#111" stroke-width="1.1"/>
<text x="46.3" y="195.9" font-size="8" text-anchor="start" font-weight="normal" fill="#1a1a1a" stroke="#1a1a1a" stroke-width="0.12" >pMIH Bcl-2</text>
<rect x="95.45" y="190.75" width="4.7" height="4.7" fill="#5fbf43" stroke="#111" stroke-width="1.1"/>
<text x="102.4" y="195.9" font-size="8" text-anchor="start" font-weight="normal" fill="#1a1a1a" stroke="#1a1a1a" stroke-width="0.12" >pMIH Bcl-XL</text>
<rect x="38.1" y="285.2" width="9.7" height="6.9" fill="#e3e3e6"/>
<rect x="50.7" y="237.2" width="9.1" height="54.9" fill="#e3e3e6"/>
<rect x="63.1" y="277.6" width="9.5" height="14.5" fill="#e3e3e6"/>
<rect x="76.2" y="285.2" width="9.7" height="6.9" fill="#e3e3e6"/>
<rect x="94" y="284.6" width="9.8" height="7.5" fill="#c6c5cc"/>
<rect x="107.3" y="239.8" width="8.7" height="52.3" fill="#c6c5cc"/>
<rect x="120.2" y="266.7" width="8.5" height="25.4" fill="#c6c5cc"/>
<rect x="132.5" y="275.2" width="8.8" height="16.9" fill="#c6c5cc"/>
<line x1="32.4" y1="205.8" x2="32.4" y2="292.68" stroke="#1a1a1a" stroke-width="1.15" />
<line x1="29.2" y1="208.5" x2="32.4" y2="208.5" stroke="#1a1a1a" stroke-width="1.05" />
<text transform="translate(26.2,211.4) scale(1.06,1)" font-size="8.2" text-anchor="end" font-weight="normal" fill="#1a1a1a" stroke="#1a1a1a" stroke-width="0.12" >8</text>
<line x1="29.2" y1="229.4" x2="32.4" y2="229.4" stroke="#1a1a1a" stroke-width="1.05" />
<text transform="translate(26.2,232.3) scale(1.06,1)" font-size="8.2" text-anchor="end" font-weight="normal" fill="#1a1a1a" stroke="#1a1a1a" stroke-width="0.12" >6</text>
<line x1="29.2" y1="250.3" x2="32.4" y2="250.3" stroke="#1a1a1a" stroke-width="1.05" />
<text transform="translate(26.2,253.2) scale(1.06,1)" font-size="8.2" text-anchor="end" font-weight="normal" fill="#1a1a1a" stroke="#1a1a1a" stroke-width="0.12" >4</text>
<line x1="29.2" y1="271.2" x2="32.4" y2="271.2" stroke="#1a1a1a" stroke-width="1.05" />
<text transform="translate(26.2,274.1) scale(1.06,1)" font-size="8.2" text-anchor="end" font-weight="normal" fill="#1a1a1a" stroke="#1a1a1a" stroke-width="0.12" >2</text>
<line x1="29.2" y1="292.1" x2="32.4" y2="292.1" stroke="#1a1a1a" stroke-width="1.05" />
<text transform="translate(26.2,295) scale(1.06,1)" font-size="8.2" text-anchor="end" font-weight="normal" fill="#1a1a1a" stroke="#1a1a1a" stroke-width="0.12" >0</text>
<line x1="32.4" y1="292.1" x2="147.2" y2="292.1" stroke="#1a1a1a" stroke-width="1.1" />
<line x1="42.8" y1="292.1" x2="42.8" y2="294.6" stroke="#1a1a1a" stroke-width="0.9" />
<line x1="55.2" y1="292.1" x2="55.2" y2="294.6" stroke="#1a1a1a" stroke-width="0.9" />
<line x1="67.9" y1="292.1" x2="67.9" y2="294.6" stroke="#1a1a1a" stroke-width="0.9" />
<line x1="80.5" y1="292.1" x2="80.5" y2="294.6" stroke="#1a1a1a" stroke-width="0.9" />
<line x1="98.9" y1="292.1" x2="98.9" y2="294.6" stroke="#1a1a1a" stroke-width="0.9" />
<line x1="111.1" y1="292.1" x2="111.1" y2="294.6" stroke="#1a1a1a" stroke-width="0.9" />
<line x1="124.3" y1="292.1" x2="124.3" y2="294.6" stroke="#1a1a1a" stroke-width="0.9" />
<line x1="136.7" y1="292.1" x2="136.7" y2="294.6" stroke="#1a1a1a" stroke-width="0.9" />
<text transform="translate(16.2,249) rotate(-90)" font-size="8.8" text-anchor="middle" fill="#1a1a1a" stroke="#1a1a1a" stroke-width="0.3" textLength="79.5" lengthAdjust="spacingAndGlyphs" >Fold change (cell number)</text>
<line x1="55.5" y1="232" x2="55.5" y2="237.5" stroke="#1a1a1a" stroke-width="0.8" />
<circle cx="42.8" cy="281.4" r="2.4" fill="#375aa2" stroke="#111" stroke-width="1.1"/>
<circle cx="40.5" cy="281.4" r="2.4" fill="#375aa2" stroke="#111" stroke-width="1.1"/>
<circle cx="45.3" cy="281.4" r="2.4" fill="#375aa2" stroke="#111" stroke-width="1.1"/>
<circle cx="55.5" cy="224.6" r="2.4" fill="#375aa2" stroke="#111" stroke-width="1.1"/>
<circle cx="55.5" cy="232" r="2.4" fill="#375aa2" stroke="#111" stroke-width="1.1"/>
<circle cx="52.8" cy="246.1" r="2.4" fill="#375aa2" stroke="#111" stroke-width="1.1"/>
<circle cx="58.2" cy="244.2" r="2.4" fill="#375aa2" stroke="#111" stroke-width="1.1"/>
<circle cx="69" cy="274.9" r="2.4" fill="#375aa2" stroke="#111" stroke-width="1.1"/>
<circle cx="65.8" cy="273.8" r="2.4" fill="#375aa2" stroke="#111" stroke-width="1.1"/>
<circle cx="67.4" cy="271.2" r="2.4" fill="#375aa2" stroke="#111" stroke-width="1.1"/>
<circle cx="70.6" cy="272.8" r="2.4" fill="#375aa2" stroke="#111" stroke-width="1.1"/>
<circle cx="83.5" cy="271.7" r="2.4" fill="#375aa2" stroke="#111" stroke-width="1.1"/>
<circle cx="78.4" cy="276.5" r="2.4" fill="#375aa2" stroke="#111" stroke-width="1.1"/>
<circle cx="78.4" cy="281.2" r="2.4" fill="#375aa2" stroke="#111" stroke-width="1.1"/>
<circle cx="83.3" cy="281.2" r="2.4" fill="#375aa2" stroke="#111" stroke-width="1.1"/>
<line x1="124" y1="262" x2="124" y2="268" stroke="#1a1a1a" stroke-width="0.8" />
<rect x="96.45" y="279.75" width="4.7" height="4.7" fill="#5fbf43" stroke="#111" stroke-width="1.1"/>
<rect x="93.95" y="279.75" width="4.7" height="4.7" fill="#5fbf43" stroke="#111" stroke-width="1.1"/>
<rect x="98.95" y="279.75" width="4.7" height="4.7" fill="#5fbf43" stroke="#111" stroke-width="1.1"/>
<rect x="108.95" y="229.35" width="4.7" height="4.7" fill="#5fbf43" stroke="#111" stroke-width="1.1"/>
<rect x="106.15" y="234.55" width="4.7" height="4.7" fill="#5fbf43" stroke="#111" stroke-width="1.1"/>
<rect x="111.85" y="234.55" width="4.7" height="4.7" fill="#5fbf43" stroke="#111" stroke-width="1.1"/>
<rect x="119.05" y="259.75" width="4.7" height="4.7" fill="#5fbf43" stroke="#111" stroke-width="1.1"/>
<rect x="124.55" y="259.75" width="4.7" height="4.7" fill="#5fbf43" stroke="#111" stroke-width="1.1"/>
<rect x="121.65" y="270.75" width="4.7" height="4.7" fill="#5fbf43" stroke="#111" stroke-width="1.1"/>
<rect x="134.75" y="266.65" width="4.7" height="4.7" fill="#5fbf43" stroke="#111" stroke-width="1.1"/>
<rect x="134.75" y="271.85" width="4.7" height="4.7" fill="#5fbf43" stroke="#111" stroke-width="1.1"/>
<rect x="134.75" y="278.25" width="4.7" height="4.7" fill="#5fbf43" stroke="#111" stroke-width="1.1"/>
<path d="M42.1,220.1 L42.1,218.5 L68.7,218.5 L68.7,220.1 M55.2,218.5 L55.2,219.8" fill="none" stroke="#151515" stroke-width="0.9"/>
<ellipse cx="47.1" cy="215.6" rx="1.05" ry="0.85" fill="#1a1a1a"/>
<ellipse cx="49.9" cy="215.6" rx="1.05" ry="0.85" fill="#1a1a1a"/>
<ellipse cx="61.8" cy="215.6" rx="1.05" ry="0.85" fill="#1a1a1a"/>
<path d="M55.2,212.7 L55.2,211.1 L81.1,211.1 L81.1,212.7" fill="none" stroke="#151515" stroke-width="0.9"/>
<ellipse cx="66.75" cy="208.2" rx="1.05" ry="0.85" fill="#1a1a1a"/>
<ellipse cx="69.55" cy="208.2" rx="1.05" ry="0.85" fill="#1a1a1a"/>
<path d="M98.1,219.7 L98.1,218.1 L124.6,218.1 L124.6,219.7 M111.1,218.1 L111.1,219.4" fill="none" stroke="#151515" stroke-width="0.9"/>
<ellipse cx="103" cy="215.2" rx="1.05" ry="0.85" fill="#1a1a1a"/>
<ellipse cx="105.8" cy="215.2" rx="1.05" ry="0.85" fill="#1a1a1a"/>
<ellipse cx="117.7" cy="215.2" rx="1.05" ry="0.85" fill="#1a1a1a"/>
<path d="M111.3,212.9 L111.3,211.3 L137.1,211.3 L137.1,212.9" fill="none" stroke="#151515" stroke-width="0.9"/>
<ellipse cx="124.2" cy="208.4" rx="1.05" ry="0.85" fill="#1a1a1a"/>
<text transform="translate(46.4,304.7) rotate(-45) scale(1,1)" font-size="8" text-anchor="end" fill="#1a1a1a" stroke="#1a1a1a" stroke-width="0.12" >T0</text>
<text transform="translate(58.8,304.7) rotate(-45) scale(1,1)" font-size="8" text-anchor="end" fill="#1a1a1a" stroke="#1a1a1a" stroke-width="0.12" >Con</text>
<text transform="translate(71.5,304.7) rotate(-45) scale(1,1)" font-size="8" text-anchor="end" fill="#1a1a1a" stroke="#1a1a1a" stroke-width="0.12" >PLX5</text>
<text transform="translate(84.1,304.7) rotate(-45) scale(1,1)" font-size="8" text-anchor="end" fill="#1a1a1a" stroke="#1a1a1a" stroke-width="0.12" >PLX2</text>
<text transform="translate(102.5,304.7) rotate(-45) scale(1,1)" font-size="8" text-anchor="end" fill="#1a1a1a" stroke="#1a1a1a" stroke-width="0.12" >T0</text>
<text transform="translate(114.7,304.7) rotate(-45) scale(1,1)" font-size="8" text-anchor="end" fill="#1a1a1a" stroke="#1a1a1a" stroke-width="0.12" >Con</text>
<text transform="translate(127.9,304.7) rotate(-45) scale(1,1)" font-size="8" text-anchor="end" fill="#1a1a1a" stroke="#1a1a1a" stroke-width="0.12" >PLX5</text>
<text transform="translate(140.3,304.7) rotate(-45) scale(1,1)" font-size="8" text-anchor="end" fill="#1a1a1a" stroke="#1a1a1a" stroke-width="0.12" >PLX2</text>
<path d="M212.8,185.9 L288.6,185.9 Q290.6,185.9 290.8,188.2" fill="none" stroke="#777" stroke-width="1.6"/>
<text x="218.6" y="181.2" font-size="5.9" text-anchor="start" font-weight="normal" fill="#3a3a3a" >Sub G<tspan font-size="4" dy="1.3">1</tspan></text>
<text x="253.8" y="181.2" font-size="5.9" text-anchor="start" font-weight="normal" fill="#3a3a3a" >G<tspan font-size="4" dy="1.3">1</tspan></text>
<text x="265.5" y="181.2" font-size="5.9" text-anchor="start" font-weight="normal" fill="#3a3a3a" >S</text>
<text x="275" y="181.2" font-size="5.9" text-anchor="start" font-weight="normal" fill="#3a3a3a" >G<tspan font-size="4" dy="1.3">2</tspan><tspan dy="-1.3">/M</tspan></text>
<path d="M236.1,226.4 L246.2,225.5 L252.2,224.2 L254.9,223.4 L256.2,220.5 L257.3,214 L258.3,205.5 L259.5,200 L260.4,198.2 L261.2,197.8 L262,199 L262.8,203 L263.6,207.2 L264.6,209.8 L265.8,210.8 L267.7,211.8 L269.3,212.4 L270.6,210.5 L271.8,208.4 L273.1,207.8 L274.3,209.5 L275.4,213 L276.6,217 L278,219.6 L279.4,220 L280.9,220 L282.5,221.3 L284.5,223.2 L287.2,225.3 L290,226.3 L292.5,226.6 L292.5,226.8 L236.1,226.8 Z" fill="#959cc6" stroke="none"/>
<path d="M236.1,226.4 L246.2,225.5 L252.2,224.2 L254.9,223.4 L256.2,220.5 L257.3,214 L258.3,205.5 L259.5,200 L260.4,198.2 L261.2,197.8 L262,199 L262.8,203 L263.6,207.2 L264.6,209.8 L265.8,210.8 L267.7,211.8 L269.3,212.4 L270.6,210.5 L271.8,208.4 L273.1,207.8 L274.3,209.5 L275.4,213 L276.6,217 L278,219.6 L279.4,220 L280.9,220 L282.5,221.3 L284.5,223.2 L287.2,225.3 L290,226.3 L292.5,226.6" fill="none" stroke="#2b3f7c" stroke-width="0.9" stroke-linejoin="round"/>
<path d="M243.5,264.6 L252.9,264.3 L255.4,263.4 L256.6,260.5 L257.6,252 L258.6,243 L259.6,238 L260.5,236.3 L261.3,236.1 L262.2,238 L263,243.5 L263.8,252 L264.6,259.5 L265.6,263.2 L266.8,264.3 L268.6,264.1 L270,262.3 L271.6,259.6 L273,258.2 L274.4,257.9 L275.6,258.8 L276.8,261.2 L278.2,263.6 L280,264.4 L285,264.6 L285,264.8 L243.5,264.8 Z" fill="#c2ddb0" stroke="none"/>
<path d="M243.5,264.6 L252.9,264.3 L255.4,263.4 L256.6,260.5 L257.6,252 L258.6,243 L259.6,238 L260.5,236.3 L261.3,236.1 L262.2,238 L263,243.5 L263.8,252 L264.6,259.5 L265.6,263.2 L266.8,264.3 L268.6,264.1 L270,262.3 L271.6,259.6 L273,258.2 L274.4,257.9 L275.6,258.8 L276.8,261.2 L278.2,263.6 L280,264.4 L285,264.6" fill="none" stroke="#64ad48" stroke-width="0.9" stroke-linejoin="round"/>
<path d="M250.2,302.7 L254.2,302 L255.4,299.5 L256.3,293 L257.1,282 L257.8,272 L258.4,267.8 L258.9,267 L259.5,267.8 L260.2,273 L260.9,284 L261.6,294 L262.4,300.5 L263.6,302.4 L266.5,302.3 L268.2,300.8 L269.6,298.4 L270.7,296.9 L271.7,296.5 L272.7,297 L273.8,299 L275.2,301.8 L277,302.7 L282.5,302.8 L282.5,302.8 L250.2,302.8 Z" fill="#f6cf8e" stroke="none"/>
<path d="M250.2,302.7 L254.2,302 L255.4,299.5 L256.3,293 L257.1,282 L257.8,272 L258.4,267.8 L258.9,267 L259.5,267.8 L260.2,273 L260.9,284 L261.6,294 L262.4,300.5 L263.6,302.4 L266.5,302.3 L268.2,300.8 L269.6,298.4 L270.7,296.9 L271.7,296.5 L272.7,297 L273.8,299 L275.2,301.8 L277,302.7 L282.5,302.8" fill="none" stroke="#e9a02e" stroke-width="0.9" stroke-linejoin="round"/>
<line x1="253.4" y1="188.4" x2="253.4" y2="302.8" stroke="#bcbcbc" stroke-width="0.9" stroke-dasharray="2.8,2"/>
<line x1="264.6" y1="188.4" x2="264.6" y2="302.8" stroke="#bcbcbc" stroke-width="0.9" stroke-dasharray="2.8,2"/>
<line x1="269.4" y1="188.4" x2="269.4" y2="302.8" stroke="#bcbcbc" stroke-width="0.9" stroke-dasharray="2.8,2"/>
<line x1="289.9" y1="188.4" x2="289.9" y2="302.8" stroke="#bcbcbc" stroke-width="0.9" stroke-dasharray="2.8,2"/>
<line x1="163.5" y1="188.4" x2="305.6" y2="188.4" stroke="#222" stroke-width="1" />
<line x1="163.5" y1="187.9" x2="163.5" y2="303.3" stroke="#222" stroke-width="1" />
<line x1="305.6" y1="187.9" x2="305.6" y2="303.3" stroke="#222" stroke-width="1" />
<line x1="210.6" y1="187.9" x2="210.6" y2="305.2" stroke="#222" stroke-width="1" />
<line x1="163.5" y1="226.8" x2="305.6" y2="226.8" stroke="#444" stroke-width="1.3" />
<line x1="163.5" y1="264.8" x2="305.6" y2="264.8" stroke="#444" stroke-width="1.3" />
<line x1="163.5" y1="302.8" x2="305.6" y2="302.8" stroke="#222" stroke-width="1.1" />
<line x1="213.56" y1="302.8" x2="213.56" y2="304.2" stroke="#222" stroke-width="0.7" />
<line x1="216.32" y1="302.8" x2="216.32" y2="304.2" stroke="#222" stroke-width="0.7" />
<line x1="218.71" y1="302.8" x2="218.71" y2="304.2" stroke="#222" stroke-width="0.7" />
<line x1="220.81" y1="302.8" x2="220.81" y2="304.2" stroke="#222" stroke-width="0.7" />
<line x1="222.7" y1="302.8" x2="222.7" y2="305.6" stroke="#222" stroke-width="0.8" />
<line x1="235.1" y1="302.8" x2="235.1" y2="304.2" stroke="#222" stroke-width="0.7" />
<line x1="242.36" y1="302.8" x2="242.36" y2="304.2" stroke="#222" stroke-width="0.7" />
<line x1="247.5" y1="302.8" x2="247.5" y2="304.2" stroke="#222" stroke-width="0.7" />
<line x1="251.5" y1="302.8" x2="251.5" y2="304.2" stroke="#222" stroke-width="0.7" />
<line x1="254.76" y1="302.8" x2="254.76" y2="304.2" stroke="#222" stroke-width="0.7" />
<line x1="257.52" y1="302.8" x2="257.52" y2="304.2" stroke="#222" stroke-width="0.7" />
<line x1="259.91" y1="302.8" x2="259.91" y2="304.2" stroke="#222" stroke-width="0.7" />
<line x1="262.01" y1="302.8" x2="262.01" y2="304.2" stroke="#222" stroke-width="0.7" />
<line x1="263.9" y1="302.8" x2="263.9" y2="305.6" stroke="#222" stroke-width="0.8" />
<line x1="276.3" y1="302.8" x2="276.3" y2="304.2" stroke="#222" stroke-width="0.7" />
<line x1="283.56" y1="302.8" x2="283.56" y2="304.2" stroke="#222" stroke-width="0.7" />
<line x1="288.7" y1="302.8" x2="288.7" y2="304.2" stroke="#222" stroke-width="0.7" />
<line x1="292.7" y1="302.8" x2="292.7" y2="304.2" stroke="#222" stroke-width="0.7" />
<line x1="295.96" y1="302.8" x2="295.96" y2="304.2" stroke="#222" stroke-width="0.7" />
<line x1="298.72" y1="302.8" x2="298.72" y2="304.2" stroke="#222" stroke-width="0.7" />
<line x1="301.11" y1="302.8" x2="301.11" y2="304.2" stroke="#222" stroke-width="0.7" />
<line x1="303.21" y1="302.8" x2="303.21" y2="304.2" stroke="#222" stroke-width="0.7" />
<text x="168" y="196.8" font-size="5.75" text-anchor="start" font-weight="normal" fill="#2a2a2a" stroke="#2a2a2a" stroke-width="0.05" >Sub G<tspan font-size="3.8" dy="1.2">1</tspan><tspan dy="-1.2">: 5.78%</tspan></text>
<text x="168" y="204.4" font-size="5.75" text-anchor="start" font-weight="normal" fill="#2a2a2a" stroke="#2a2a2a" stroke-width="0.05" >G<tspan font-size="3.8" dy="1.2">1</tspan><tspan dy="-1.2">: 45%</tspan></text>
<text x="168" y="212" font-size="5.75" text-anchor="start" font-weight="normal" fill="#2a2a2a" stroke="#2a2a2a" stroke-width="0.05" >S: 22.3%</text>
<text x="168" y="219.6" font-size="5.75" text-anchor="start" font-weight="normal" fill="#2a2a2a" stroke="#2a2a2a" stroke-width="0.05" >G<tspan font-size="3.8" dy="1.2">2</tspan><tspan dy="-1.2">/M: 27.5%</tspan></text>
<text x="167.2" y="235.9" font-size="5.75" text-anchor="start" font-weight="normal" fill="#2a2a2a" stroke="#2a2a2a" stroke-width="0.05" >Sub G<tspan font-size="3.8" dy="1.2">1</tspan><tspan dy="-1.2">: 2.49%</tspan></text>
<text x="167.2" y="243.6" font-size="5.75" text-anchor="start" font-weight="normal" fill="#2a2a2a" stroke="#2a2a2a" stroke-width="0.05" >G<tspan font-size="3.8" dy="1.2">1</tspan><tspan dy="-1.2">: 69.7%</tspan></text>
<text x="167.2" y="251.3" font-size="5.75" text-anchor="start" font-weight="normal" fill="#2a2a2a" stroke="#2a2a2a" stroke-width="0.05" >S: 8.2%</text>
<text x="167.2" y="259" font-size="5.75" text-anchor="start" font-weight="normal" fill="#2a2a2a" stroke="#2a2a2a" stroke-width="0.05" >G<tspan font-size="3.8" dy="1.2">2</tspan><tspan dy="-1.2">/M: 19.1%</tspan></text>
<text x="166.6" y="272.5" font-size="5.75" text-anchor="start" font-weight="normal" fill="#2a2a2a" stroke="#2a2a2a" stroke-width="0.05" >Sub G<tspan font-size="3.8" dy="1.2">1</tspan><tspan dy="-1.2">: 2.36%</tspan></text>
<text x="166.6" y="280.1" font-size="5.75" text-anchor="start" font-weight="normal" fill="#2a2a2a" stroke="#2a2a2a" stroke-width="0.05" >G<tspan font-size="3.8" dy="1.2">1</tspan><tspan dy="-1.2">: 73.3%</tspan></text>
<text x="166.6" y="287.7" font-size="5.75" text-anchor="start" font-weight="normal" fill="#2a2a2a" stroke="#2a2a2a" stroke-width="0.05" >S: 10.26%</text>
<text x="166.6" y="295.3" font-size="5.75" text-anchor="start" font-weight="normal" fill="#2a2a2a" stroke="#2a2a2a" stroke-width="0.05" >G<tspan font-size="3.8" dy="1.2">2</tspan><tspan dy="-1.2">/M: 14.2%</tspan></text>
<text x="213" y="224.7" font-size="8.4" text-anchor="start" font-weight="normal" fill="#1a1a1a" stroke="#1a1a1a" stroke-width="0.12" >Con</text>
<text x="212.8" y="262.4" font-size="8" text-anchor="start" font-weight="normal" fill="#1a1a1a" stroke="#1a1a1a" stroke-width="0.12" >PLX5</text>
<text x="212.8" y="300.6" font-size="8" text-anchor="start" font-weight="normal" fill="#1a1a1a" stroke="#1a1a1a" stroke-width="0.12" >PLX2</text>
<text x="258.2" y="316.6" font-size="8.2" text-anchor="middle" font-weight="normal" fill="#1a1a1a" stroke="#1a1a1a" stroke-width="0.12" >PI</text>
<circle cx="353.8" cy="209.7" r="2.4" fill="#375aa2" stroke="#111" stroke-width="1.1"/>
<text x="359.6" y="212.4" font-size="8" text-anchor="start" font-weight="normal" fill="#1a1a1a" stroke="#1a1a1a" stroke-width="0.12" >Con</text>
<rect x="388.85" y="207.35" width="4.7" height="4.7" fill="#5fbf43" stroke="#111" stroke-width="1.1"/>
<text x="396.6" y="212.4" font-size="8" text-anchor="start" font-weight="normal" fill="#1a1a1a" stroke="#1a1a1a" stroke-width="0.12" >PLX5</text>
<circle cx="432.7" cy="209.7" r="2.4" fill="#f6a21e" stroke="#111" stroke-width="1.1"/>
<text x="438.2" y="212.4" font-size="8" text-anchor="start" font-weight="normal" fill="#1a1a1a" stroke="#1a1a1a" stroke-width="0.12" >PLX2</text>
<rect x="355" y="296.7" width="5.6" height="2.8" fill="#e3e3e6"/>
<rect x="363.4" y="295.77" width="5.6" height="3.73" fill="#c6c5cc"/>
<rect x="371.8" y="295.77" width="5.6" height="3.73" fill="#8f909f"/>
<rect x="383.1" y="257.54" width="5.6" height="41.96" fill="#e3e3e6"/>
<rect x="391.5" y="237.02" width="5.6" height="62.48" fill="#c6c5cc"/>
<rect x="399.9" y="236.09" width="5.6" height="63.41" fill="#8f909f"/>
<rect x="411.3" y="288.31" width="5.6" height="11.19" fill="#e3e3e6"/>
<rect x="419.7" y="292.97" width="5.6" height="6.53" fill="#c6c5cc"/>
<rect x="428.1" y="292.04" width="5.6" height="7.46" fill="#8f909f"/>
<rect x="439.6" y="276.19" width="5.6" height="23.31" fill="#e3e3e6"/>
<rect x="448" y="286.44" width="5.6" height="13.06" fill="#c6c5cc"/>
<rect x="456.4" y="289.24" width="5.6" height="10.26" fill="#8f909f"/>
<line x1="351.6" y1="216.8" x2="351.6" y2="300.07" stroke="#1a1a1a" stroke-width="1.15" />
<line x1="348.4" y1="224.9" x2="351.6" y2="224.9" stroke="#1a1a1a" stroke-width="1.05" />
<text transform="translate(345.4,227.8) scale(1.06,1)" font-size="8.2" text-anchor="end" font-weight="normal" fill="#1a1a1a" stroke="#1a1a1a" stroke-width="0.12" >80</text>
<line x1="348.4" y1="243.55" x2="351.6" y2="243.55" stroke="#1a1a1a" stroke-width="1.05" />
<text transform="translate(345.4,246.45) scale(1.06,1)" font-size="8.2" text-anchor="end" font-weight="normal" fill="#1a1a1a" stroke="#1a1a1a" stroke-width="0.12" >60</text>
<line x1="348.4" y1="262.2" x2="351.6" y2="262.2" stroke="#1a1a1a" stroke-width="1.05" />
<text transform="translate(345.4,265.1) scale(1.06,1)" font-size="8.2" text-anchor="end" font-weight="normal" fill="#1a1a1a" stroke="#1a1a1a" stroke-width="0.12" >40</text>
<line x1="348.4" y1="280.85" x2="351.6" y2="280.85" stroke="#1a1a1a" stroke-width="1.05" />
<text transform="translate(345.4,283.75) scale(1.06,1)" font-size="8.2" text-anchor="end" font-weight="normal" fill="#1a1a1a" stroke="#1a1a1a" stroke-width="0.12" >20</text>
<line x1="348.4" y1="299.5" x2="351.6" y2="299.5" stroke="#1a1a1a" stroke-width="1.05" />
<text transform="translate(345.4,302.4) scale(1.06,1)" font-size="8.2" text-anchor="end" font-weight="normal" fill="#1a1a1a" stroke="#1a1a1a" stroke-width="0.12" >0</text>
<line x1="351.6" y1="299.5" x2="462.6" y2="299.5" stroke="#1a1a1a" stroke-width="1.1" />
<line x1="366.2" y1="299.5" x2="366.2" y2="302" stroke="#1a1a1a" stroke-width="0.9" />
<line x1="394.3" y1="299.5" x2="394.3" y2="302" stroke="#1a1a1a" stroke-width="0.9" />
<line x1="422.5" y1="299.5" x2="422.5" y2="302" stroke="#1a1a1a" stroke-width="0.9" />
<line x1="450.8" y1="299.5" x2="450.8" y2="302" stroke="#1a1a1a" stroke-width="0.9" />
<text transform="translate(329.8,257.7) rotate(-90)" font-size="8.4" text-anchor="middle" fill="#1a1a1a" stroke="#1a1a1a" stroke-width="0.3" textLength="21.3" lengthAdjust="spacingAndGlyphs" >% cells</text>
<circle cx="357.8" cy="294.6" r="2.4" fill="#375aa2" stroke="#111" stroke-width="1.1"/>
<circle cx="357.8" cy="296.9" r="2.4" fill="#375aa2" stroke="#111" stroke-width="1.1"/>
<rect x="363.25" y="292.85" width="4.7" height="4.7" fill="#5fbf43" stroke="#111" stroke-width="1.1"/>
<rect x="363.25" y="294.45" width="4.7" height="4.7" fill="#5fbf43" stroke="#111" stroke-width="1.1"/>
<circle cx="374.6" cy="293.1" r="2.4" fill="#f6a21e" stroke="#111" stroke-width="1.1"/>
<circle cx="374.6" cy="297.1" r="2.4" fill="#f6a21e" stroke="#111" stroke-width="1.1"/>
<circle cx="385.8" cy="254.8" r="2.4" fill="#375aa2" stroke="#111" stroke-width="1.1"/>
<circle cx="387.1" cy="257.7" r="2.4" fill="#375aa2" stroke="#111" stroke-width="1.1"/>
<circle cx="385.2" cy="261.9" r="2.4" fill="#375aa2" stroke="#111" stroke-width="1.1"/>
<rect x="392.45" y="232.85" width="4.7" height="4.7" fill="#5fbf43" stroke="#111" stroke-width="1.1"/>
<rect x="391.65" y="234.15" width="4.7" height="4.7" fill="#5fbf43" stroke="#111" stroke-width="1.1"/>
<rect x="392.45" y="236.15" width="4.7" height="4.7" fill="#5fbf43" stroke="#111" stroke-width="1.1"/>
<circle cx="403.2" cy="231.5" r="2.4" fill="#f6a21e" stroke="#111" stroke-width="1.1"/>
<circle cx="403.2" cy="238.1" r="2.4" fill="#f6a21e" stroke="#111" stroke-width="1.1"/>
<circle cx="402.3" cy="238.5" r="2.4" fill="#f6a21e" stroke="#111" stroke-width="1.1"/>
<circle cx="414.9" cy="279" r="2.4" fill="#375aa2" stroke="#111" stroke-width="1.1"/>
<circle cx="414.9" cy="284.6" r="2.4" fill="#375aa2" stroke="#111" stroke-width="1.1"/>
<circle cx="413.9" cy="286.2" r="2.4" fill="#375aa2" stroke="#111" stroke-width="1.1"/>
<rect x="420.35" y="287.65" width="4.7" height="4.7" fill="#5fbf43" stroke="#111" stroke-width="1.1"/>
<rect x="421.05" y="289.55" width="4.7" height="4.7" fill="#5fbf43" stroke="#111" stroke-width="1.1"/>
<rect x="419.75" y="293.35" width="4.7" height="4.7" fill="#5fbf43" stroke="#111" stroke-width="1.1"/>
<circle cx="431.8" cy="290.6" r="2.4" fill="#f6a21e" stroke="#111" stroke-width="1.1"/>
<circle cx="430.3" cy="294.8" r="2.4" fill="#f6a21e" stroke="#111" stroke-width="1.1"/>
<circle cx="442.7" cy="263.4" r="2.4" fill="#375aa2" stroke="#111" stroke-width="1.1"/>
<circle cx="444" cy="270.1" r="2.4" fill="#375aa2" stroke="#111" stroke-width="1.1"/>
<circle cx="442.3" cy="274.2" r="2.4" fill="#375aa2" stroke="#111" stroke-width="1.1"/>
<rect x="448.85" y="274.35" width="4.7" height="4.7" fill="#5fbf43" stroke="#111" stroke-width="1.1"/>
<rect x="448.85" y="278.15" width="4.7" height="4.7" fill="#5fbf43" stroke="#111" stroke-width="1.1"/>
<rect x="447.55" y="280.05" width="4.7" height="4.7" fill="#5fbf43" stroke="#111" stroke-width="1.1"/>
<circle cx="459.4" cy="274.8" r="2.4" fill="#f6a21e" stroke="#111" stroke-width="1.1"/>
<circle cx="459.4" cy="281.8" r="2.4" fill="#f6a21e" stroke="#111" stroke-width="1.1"/>
<circle cx="459.4" cy="287.1" r="2.4" fill="#f6a21e" stroke="#111" stroke-width="1.1"/>
<path d="M357.8,281.8 L357.8,280.2 L374.5,280.2 L374.5,281.8" fill="none" stroke="#151515" stroke-width="0.9"/>
<text x="366.15" y="278.6" font-size="7.2" text-anchor="middle" font-weight="normal" fill="#1a1a1a" stroke="#1a1a1a" stroke-width="0.05" >ns</text>
<path d="M357.8,290.4 L357.8,288.8 L366.7,288.8 L366.7,290.4" fill="none" stroke="#151515" stroke-width="0.9"/>
<text x="362.25" y="287.2" font-size="7.2" text-anchor="middle" font-weight="normal" fill="#1a1a1a" stroke="#1a1a1a" stroke-width="0.05" >ns</text>
<path d="M386.2,223.7 L386.2,222.1 L402.7,222.1 L402.7,223.7" fill="none" stroke="#151515" stroke-width="0.9"/>
<ellipse cx="390.25" cy="219.2" rx="1.05" ry="0.85" fill="#1a1a1a"/>
<ellipse cx="393.05" cy="219.2" rx="1.05" ry="0.85" fill="#1a1a1a"/>
<ellipse cx="395.85" cy="219.2" rx="1.05" ry="0.85" fill="#1a1a1a"/>
<ellipse cx="398.65" cy="219.2" rx="1.05" ry="0.85" fill="#1a1a1a"/>
<path d="M386.2,230.1 L386.2,228.5 L395.4,228.5 L395.4,230.1" fill="none" stroke="#151515" stroke-width="0.9"/>
<ellipse cx="386.6" cy="225.6" rx="1.05" ry="0.85" fill="#1a1a1a"/>
<ellipse cx="389.4" cy="225.6" rx="1.05" ry="0.85" fill="#1a1a1a"/>
<ellipse cx="392.2" cy="225.6" rx="1.05" ry="0.85" fill="#1a1a1a"/>
<ellipse cx="395" cy="225.6" rx="1.05" ry="0.85" fill="#1a1a1a"/>
<path d="M414.5,267.6 L414.5,266 L431,266 L431,267.6" fill="none" stroke="#151515" stroke-width="0.9"/>
<ellipse cx="419.95" cy="263.1" rx="1.05" ry="0.85" fill="#1a1a1a"/>
<ellipse cx="422.75" cy="263.1" rx="1.05" ry="0.85" fill="#1a1a1a"/>
<ellipse cx="425.55" cy="263.1" rx="1.05" ry="0.85" fill="#1a1a1a"/>
<path d="M414.5,274.3 L414.5,272.7 L423.4,272.7 L423.4,274.3" fill="none" stroke="#151515" stroke-width="0.9"/>
<ellipse cx="416.15" cy="269.8" rx="1.05" ry="0.85" fill="#1a1a1a"/>
<ellipse cx="418.95" cy="269.8" rx="1.05" ry="0.85" fill="#1a1a1a"/>
<ellipse cx="421.75" cy="269.8" rx="1.05" ry="0.85" fill="#1a1a1a"/>
<path d="M442.7,251.1 L442.7,249.5 L459.4,249.5 L459.4,251.1" fill="none" stroke="#151515" stroke-width="0.9"/>
<ellipse cx="446.85" cy="246.6" rx="1.05" ry="0.85" fill="#1a1a1a"/>
<ellipse cx="449.65" cy="246.6" rx="1.05" ry="0.85" fill="#1a1a1a"/>
<ellipse cx="452.45" cy="246.6" rx="1.05" ry="0.85" fill="#1a1a1a"/>
<ellipse cx="455.25" cy="246.6" rx="1.05" ry="0.85" fill="#1a1a1a"/>
<path d="M442.7,259.3 L442.7,257.7 L451.6,257.7 L451.6,259.3" fill="none" stroke="#151515" stroke-width="0.9"/>
<ellipse cx="442.95" cy="254.8" rx="1.05" ry="0.85" fill="#1a1a1a"/>
<ellipse cx="445.75" cy="254.8" rx="1.05" ry="0.85" fill="#1a1a1a"/>
<ellipse cx="448.55" cy="254.8" rx="1.05" ry="0.85" fill="#1a1a1a"/>
<ellipse cx="451.35" cy="254.8" rx="1.05" ry="0.85" fill="#1a1a1a"/>
<text x="366.8" y="313.7" font-size="8.2" text-anchor="middle" font-weight="normal" fill="#1a1a1a" stroke="#1a1a1a" stroke-width="0.12" >Sub G<tspan font-size="5.2" dy="2.2">1</tspan></text>
<text x="394.6" y="313.7" font-size="8.2" text-anchor="middle" font-weight="normal" fill="#1a1a1a" stroke="#1a1a1a" stroke-width="0.12" >G<tspan font-size="5.2" dy="2.2">1</tspan></text>
<text x="422.6" y="313.7" font-size="8.2" text-anchor="middle" font-weight="normal" fill="#1a1a1a" stroke="#1a1a1a" stroke-width="0.12" >S</text>
<text x="451.4" y="313.7" font-size="8.2" text-anchor="middle" font-weight="normal" fill="#1a1a1a" stroke="#1a1a1a" stroke-width="0.12" >G<tspan font-size="5.2" dy="2.2">2</tspan><tspan dy="-2.2">/M</tspan></text>
<line x1="110.9" y1="406" x2="110.9" y2="413" stroke="#1a1a1a" stroke-width="0.8" />
<line x1="143.7" y1="443.5" x2="143.7" y2="449" stroke="#1a1a1a" stroke-width="0.8" />
<line x1="127.1" y1="440" x2="127.1" y2="447" stroke="#1a1a1a" stroke-width="0.8" />
<circle cx="51.6" cy="355.9" r="2.4" fill="#375aa2" stroke="#111" stroke-width="1.1"/>
<text x="57.2" y="358.7" font-size="8.2" text-anchor="start" font-weight="normal" fill="#1a1a1a" stroke="#1a1a1a" stroke-width="0.12" >DMSO</text>
<rect x="90.75" y="353.55" width="4.7" height="4.7" fill="#5fbf43" stroke="#111" stroke-width="1.1"/>
<text x="98.5" y="358.7" font-size="8.2" text-anchor="start" font-weight="normal" fill="#1a1a1a" stroke="#1a1a1a" stroke-width="0.12" >ABT199</text>
<rect x="49.3" y="386.65" width="12.2" height="68.25" fill="#e3e3e6"/>
<rect x="66.2" y="386.65" width="12" height="68.25" fill="#e3e3e6"/>
<rect x="82.8" y="386.65" width="12.2" height="68.25" fill="#e3e3e6"/>
<rect x="105" y="412.2" width="12.3" height="42.7" fill="#c6c5cc"/>
<rect x="121.3" y="445.1" width="12.3" height="9.8" fill="#d3d3d8"/>
<rect x="137.2" y="445.31" width="12.3" height="9.59" fill="#d3d3d8"/>
<line x1="42.6" y1="368.8" x2="42.6" y2="455.47" stroke="#1a1a1a" stroke-width="1.15" />
<line x1="39.4" y1="370.9" x2="42.6" y2="370.9" stroke="#1a1a1a" stroke-width="1.05" />
<line x1="39.4" y1="384.9" x2="42.6" y2="384.9" stroke="#1a1a1a" stroke-width="1.05" />
<text transform="translate(36.4,387.8) scale(1.06,1)" font-size="8.2" text-anchor="end" font-weight="normal" fill="#1a1a1a" stroke="#1a1a1a" stroke-width="0.12" >100</text>
<line x1="39.4" y1="398.9" x2="42.6" y2="398.9" stroke="#1a1a1a" stroke-width="1.05" />
<text transform="translate(36.4,401.8) scale(1.06,1)" font-size="8.2" text-anchor="end" font-weight="normal" fill="#1a1a1a" stroke="#1a1a1a" stroke-width="0.12" >80</text>
<line x1="39.4" y1="412.9" x2="42.6" y2="412.9" stroke="#1a1a1a" stroke-width="1.05" />
<text transform="translate(36.4,415.8) scale(1.06,1)" font-size="8.2" text-anchor="end" font-weight="normal" fill="#1a1a1a" stroke="#1a1a1a" stroke-width="0.12" >60</text>
<line x1="39.4" y1="426.9" x2="42.6" y2="426.9" stroke="#1a1a1a" stroke-width="1.05" />
<text transform="translate(36.4,429.8) scale(1.06,1)" font-size="8.2" text-anchor="end" font-weight="normal" fill="#1a1a1a" stroke="#1a1a1a" stroke-width="0.12" >40</text>
<line x1="39.4" y1="440.9" x2="42.6" y2="440.9" stroke="#1a1a1a" stroke-width="1.05" />
<text transform="translate(36.4,443.8) scale(1.06,1)" font-size="8.2" text-anchor="end" font-weight="normal" fill="#1a1a1a" stroke="#1a1a1a" stroke-width="0.12" >20</text>
<line x1="39.4" y1="454.9" x2="42.6" y2="454.9" stroke="#1a1a1a" stroke-width="1.05" />
<text transform="translate(36.4,457.8) scale(1.06,1)" font-size="8.2" text-anchor="end" font-weight="normal" fill="#1a1a1a" stroke="#1a1a1a" stroke-width="0.12" >0</text>
<line x1="42.6" y1="454.9" x2="151.5" y2="454.9" stroke="#1a1a1a" stroke-width="1.1" />
<line x1="55.4" y1="454.9" x2="55.4" y2="457.4" stroke="#1a1a1a" stroke-width="0.9" />
<line x1="72.2" y1="454.9" x2="72.2" y2="457.4" stroke="#1a1a1a" stroke-width="0.9" />
<line x1="88.9" y1="454.9" x2="88.9" y2="457.4" stroke="#1a1a1a" stroke-width="0.9" />
<line x1="111.15" y1="454.9" x2="111.15" y2="457.4" stroke="#1a1a1a" stroke-width="0.9" />
<line x1="127.45" y1="454.9" x2="127.45" y2="457.4" stroke="#1a1a1a" stroke-width="0.9" />
<line x1="143.35" y1="454.9" x2="143.35" y2="457.4" stroke="#1a1a1a" stroke-width="0.9" />
<text transform="translate(16,411.5) rotate(-90)" font-size="8.8" text-anchor="middle" fill="#1a1a1a" stroke="#1a1a1a" stroke-width="0.3" textLength="58.2" lengthAdjust="spacingAndGlyphs" >% specific viability</text>
<circle cx="55.3" cy="384.9" r="2.4" fill="#375aa2" stroke="#111" stroke-width="1.1"/>
<circle cx="51.6" cy="384.9" r="2.4" fill="#375aa2" stroke="#111" stroke-width="1.1"/>
<circle cx="59.2" cy="384.9" r="2.4" fill="#375aa2" stroke="#111" stroke-width="1.1"/>
<circle cx="71.9" cy="385.8" r="2.4" fill="#375aa2" stroke="#111" stroke-width="1.1"/>
<circle cx="68" cy="385.8" r="2.4" fill="#375aa2" stroke="#111" stroke-width="1.1"/>
<circle cx="75.6" cy="385.8" r="2.4" fill="#375aa2" stroke="#111" stroke-width="1.1"/>
<circle cx="88.1" cy="385.4" r="2.4" fill="#375aa2" stroke="#111" stroke-width="1.1"/>
<circle cx="84.4" cy="385.4" r="2.4" fill="#375aa2" stroke="#111" stroke-width="1.1"/>
<circle cx="91.8" cy="385.4" r="2.4" fill="#375aa2" stroke="#111" stroke-width="1.1"/>
<rect x="104.85" y="403.55" width="4.7" height="4.7" fill="#5fbf43" stroke="#111" stroke-width="1.1"/>
<rect x="112.85" y="404.35" width="4.7" height="4.7" fill="#5fbf43" stroke="#111" stroke-width="1.1"/>
<rect x="108.55" y="420.65" width="4.7" height="4.7" fill="#5fbf43" stroke="#111" stroke-width="1.1"/>
<rect x="124.75" y="434.95" width="4.7" height="4.7" fill="#5fbf43" stroke="#111" stroke-width="1.1"/>
<rect x="124.75" y="442.75" width="4.7" height="4.7" fill="#5fbf43" stroke="#111" stroke-width="1.1"/>
<rect x="124.75" y="447.85" width="4.7" height="4.7" fill="#5fbf43" stroke="#111" stroke-width="1.1"/>
<rect x="137.35" y="437.45" width="4.7" height="4.7" fill="#5fbf43" stroke="#111" stroke-width="1.1"/>
<rect x="145.55" y="440.75" width="4.7" height="4.7" fill="#5fbf43" stroke="#111" stroke-width="1.1"/>
<rect x="141.35" y="449.05" width="4.7" height="4.7" fill="#5fbf43" stroke="#111" stroke-width="1.1"/>
<path d="M55.3,374.3 L55.3,372.7 L88.1,372.7 L88.1,374.3" fill="none" stroke="#151515" stroke-width="0.9"/>
<text x="71.7" y="371.3" font-size="7.2" text-anchor="middle" font-weight="normal" fill="#1a1a1a" stroke="#1a1a1a" stroke-width="0.05" >ns</text>
<path d="M55.3,380.5 L55.3,378.9 L71.9,378.9 L71.9,380.5" fill="none" stroke="#151515" stroke-width="0.9"/>
<text x="63.6" y="377.5" font-size="7.2" text-anchor="middle" font-weight="normal" fill="#1a1a1a" stroke="#1a1a1a" stroke-width="0.05" >ns</text>
<path d="M111.2,394.6 L111.2,393 L143.5,393 L143.5,394.6" fill="none" stroke="#151515" stroke-width="0.9"/>
<ellipse cx="124.55" cy="390.1" rx="1.05" ry="0.85" fill="#1a1a1a"/>
<ellipse cx="127.35" cy="390.1" rx="1.05" ry="0.85" fill="#1a1a1a"/>
<ellipse cx="130.15" cy="390.1" rx="1.05" ry="0.85" fill="#1a1a1a"/>
<path d="M111.2,400.8 L111.2,399.2 L127.3,399.2 L127.3,400.8" fill="none" stroke="#151515" stroke-width="0.9"/>
<ellipse cx="116.45" cy="396.3" rx="1.05" ry="0.85" fill="#1a1a1a"/>
<ellipse cx="119.25" cy="396.3" rx="1.05" ry="0.85" fill="#1a1a1a"/>
<ellipse cx="122.05" cy="396.3" rx="1.05" ry="0.85" fill="#1a1a1a"/>
<text transform="translate(58.6,468.1) rotate(-45) scale(1,1)" font-size="8" text-anchor="end" fill="#1a1a1a" stroke="#1a1a1a" stroke-width="0.12" >Con</text>
<text transform="translate(75.4,468.1) rotate(-45) scale(1,1)" font-size="8" text-anchor="end" fill="#1a1a1a" stroke="#1a1a1a" stroke-width="0.12" >PLX5</text>
<text transform="translate(92.1,468.1) rotate(-45) scale(1,1)" font-size="8" text-anchor="end" fill="#1a1a1a" stroke="#1a1a1a" stroke-width="0.12" >PLX2</text>
<text transform="translate(114.35,468.1) rotate(-45) scale(1,1)" font-size="8" text-anchor="end" fill="#1a1a1a" stroke="#1a1a1a" stroke-width="0.12" >Con</text>
<text transform="translate(130.65,468.1) rotate(-45) scale(1,1)" font-size="8" text-anchor="end" fill="#1a1a1a" stroke="#1a1a1a" stroke-width="0.12" >PLX5</text>
<text transform="translate(146.55,468.1) rotate(-45) scale(1,1)" font-size="8" text-anchor="end" fill="#1a1a1a" stroke="#1a1a1a" stroke-width="0.12" >PLX2</text>
<line x1="237.5" y1="394" x2="237.5" y2="401" stroke="#1a1a1a" stroke-width="0.8" />
<line x1="254.5" y1="396" x2="254.5" y2="403" stroke="#1a1a1a" stroke-width="0.8" />
<line x1="277" y1="395" x2="277" y2="402" stroke="#1a1a1a" stroke-width="0.8" />
<line x1="293.3" y1="446" x2="293.3" y2="451" stroke="#1a1a1a" stroke-width="0.8" />
<line x1="309.5" y1="442" x2="309.5" y2="449" stroke="#1a1a1a" stroke-width="0.8" />
<circle cx="217" cy="355.9" r="2.4" fill="#375aa2" stroke="#111" stroke-width="1.1"/>
<text x="222.6" y="358.7" font-size="8.2" text-anchor="start" font-weight="normal" fill="#1a1a1a" stroke="#1a1a1a" stroke-width="0.12" >DMSO</text>
<rect x="256.95" y="353.55" width="4.7" height="4.7" fill="#5fbf43" stroke="#111" stroke-width="1.1"/>
<text x="264.7" y="358.7" font-size="8.2" text-anchor="start" font-weight="normal" fill="#1a1a1a" stroke="#1a1a1a" stroke-width="0.12" >WH-539</text>
<rect x="215.5" y="384.9" width="12" height="70" fill="#e3e3e6"/>
<rect x="231.3" y="397.85" width="12.5" height="57.05" fill="#e3e3e6"/>
<rect x="248.3" y="399.25" width="12.2" height="55.65" fill="#e3e3e6"/>
<rect x="271.3" y="398.55" width="12" height="56.35" fill="#c6c5cc"/>
<rect x="287.5" y="448.95" width="12" height="5.95" fill="#d3d3d8"/>
<rect x="304.3" y="447.2" width="12" height="7.7" fill="#d3d3d8"/>
<line x1="208.7" y1="368.8" x2="208.7" y2="455.47" stroke="#1a1a1a" stroke-width="1.15" />
<line x1="205.5" y1="370.9" x2="208.7" y2="370.9" stroke="#1a1a1a" stroke-width="1.05" />
<line x1="205.5" y1="384.9" x2="208.7" y2="384.9" stroke="#1a1a1a" stroke-width="1.05" />
<text transform="translate(202.5,387.8) scale(1.06,1)" font-size="8.2" text-anchor="end" font-weight="normal" fill="#1a1a1a" stroke="#1a1a1a" stroke-width="0.12" >100</text>
<line x1="205.5" y1="398.9" x2="208.7" y2="398.9" stroke="#1a1a1a" stroke-width="1.05" />
<text transform="translate(202.5,401.8) scale(1.06,1)" font-size="8.2" text-anchor="end" font-weight="normal" fill="#1a1a1a" stroke="#1a1a1a" stroke-width="0.12" >80</text>
<line x1="205.5" y1="412.9" x2="208.7" y2="412.9" stroke="#1a1a1a" stroke-width="1.05" />
<text transform="translate(202.5,415.8) scale(1.06,1)" font-size="8.2" text-anchor="end" font-weight="normal" fill="#1a1a1a" stroke="#1a1a1a" stroke-width="0.12" >60</text>
<line x1="205.5" y1="426.9" x2="208.7" y2="426.9" stroke="#1a1a1a" stroke-width="1.05" />
<text transform="translate(202.5,429.8) scale(1.06,1)" font-size="8.2" text-anchor="end" font-weight="normal" fill="#1a1a1a" stroke="#1a1a1a" stroke-width="0.12" >40</text>
<line x1="205.5" y1="440.9" x2="208.7" y2="440.9" stroke="#1a1a1a" stroke-width="1.05" />
<text transform="translate(202.5,443.8) scale(1.06,1)" font-size="8.2" text-anchor="end" font-weight="normal" fill="#1a1a1a" stroke="#1a1a1a" stroke-width="0.12" >20</text>
<line x1="205.5" y1="454.9" x2="208.7" y2="454.9" stroke="#1a1a1a" stroke-width="1.05" />
<text transform="translate(202.5,457.8) scale(1.06,1)" font-size="8.2" text-anchor="end" font-weight="normal" fill="#1a1a1a" stroke="#1a1a1a" stroke-width="0.12" >0</text>
<line x1="208.7" y1="454.9" x2="323" y2="454.9" stroke="#1a1a1a" stroke-width="1.1" />
<line x1="221.5" y1="454.9" x2="221.5" y2="457.4" stroke="#1a1a1a" stroke-width="0.9" />
<line x1="237.55" y1="454.9" x2="237.55" y2="457.4" stroke="#1a1a1a" stroke-width="0.9" />
<line x1="254.4" y1="454.9" x2="254.4" y2="457.4" stroke="#1a1a1a" stroke-width="0.9" />
<line x1="277.3" y1="454.9" x2="277.3" y2="457.4" stroke="#1a1a1a" stroke-width="0.9" />
<line x1="293.5" y1="454.9" x2="293.5" y2="457.4" stroke="#1a1a1a" stroke-width="0.9" />
<line x1="310.3" y1="454.9" x2="310.3" y2="457.4" stroke="#1a1a1a" stroke-width="0.9" />
<text transform="translate(181.8,411.5) rotate(-90)" font-size="8.8" text-anchor="middle" fill="#1a1a1a" stroke="#1a1a1a" stroke-width="0.3" textLength="58.2" lengthAdjust="spacingAndGlyphs" >% specific viability</text>
<circle cx="221.3" cy="385.3" r="2.4" fill="#375aa2" stroke="#111" stroke-width="1.1"/>
<circle cx="217" cy="385.3" r="2.4" fill="#375aa2" stroke="#111" stroke-width="1.1"/>
<circle cx="225.4" cy="385.3" r="2.4" fill="#375aa2" stroke="#111" stroke-width="1.1"/>
<circle cx="233.8" cy="394.3" r="2.4" fill="#375aa2" stroke="#111" stroke-width="1.1"/>
<circle cx="242" cy="394.5" r="2.4" fill="#375aa2" stroke="#111" stroke-width="1.1"/>
<circle cx="237.5" cy="402.5" r="2.4" fill="#375aa2" stroke="#111" stroke-width="1.1"/>
<circle cx="250.8" cy="395" r="2.4" fill="#375aa2" stroke="#111" stroke-width="1.1"/>
<circle cx="258" cy="399.5" r="2.4" fill="#375aa2" stroke="#111" stroke-width="1.1"/>
<circle cx="250.5" cy="404.5" r="2.4" fill="#375aa2" stroke="#111" stroke-width="1.1"/>
<rect x="270.65" y="392.15" width="4.7" height="4.7" fill="#5fbf43" stroke="#111" stroke-width="1.1"/>
<rect x="278.45" y="392.45" width="4.7" height="4.7" fill="#5fbf43" stroke="#111" stroke-width="1.1"/>
<rect x="274.65" y="402.65" width="4.7" height="4.7" fill="#5fbf43" stroke="#111" stroke-width="1.1"/>
<rect x="286.95" y="442.15" width="4.7" height="4.7" fill="#5fbf43" stroke="#111" stroke-width="1.1"/>
<rect x="295.15" y="443.45" width="4.7" height="4.7" fill="#5fbf43" stroke="#111" stroke-width="1.1"/>
<rect x="290.95" y="449.45" width="4.7" height="4.7" fill="#5fbf43" stroke="#111" stroke-width="1.1"/>
<rect x="307.15" y="438.45" width="4.7" height="4.7" fill="#5fbf43" stroke="#111" stroke-width="1.1"/>
<rect x="311.45" y="443.95" width="4.7" height="4.7" fill="#5fbf43" stroke="#111" stroke-width="1.1"/>
<rect x="303.45" y="448.45" width="4.7" height="4.7" fill="#5fbf43" stroke="#111" stroke-width="1.1"/>
<path d="M221.3,374.1 L221.3,372.5 L254.5,372.5 L254.5,374.1" fill="none" stroke="#151515" stroke-width="0.9"/>
<ellipse cx="236.5" cy="369.6" rx="1.05" ry="0.85" fill="#1a1a1a"/>
<ellipse cx="239.3" cy="369.6" rx="1.05" ry="0.85" fill="#1a1a1a"/>
<path d="M221.3,380.9 L221.3,379.3 L237.5,379.3 L237.5,380.9" fill="none" stroke="#151515" stroke-width="0.9"/>
<ellipse cx="228" cy="376.4" rx="1.05" ry="0.85" fill="#1a1a1a"/>
<ellipse cx="230.8" cy="376.4" rx="1.05" ry="0.85" fill="#1a1a1a"/>
<path d="M277,382.9 L277,381.3 L310,381.3 L310,382.9" fill="none" stroke="#151515" stroke-width="0.9"/>
<ellipse cx="289.3" cy="378.4" rx="1.05" ry="0.85" fill="#1a1a1a"/>
<ellipse cx="292.1" cy="378.4" rx="1.05" ry="0.85" fill="#1a1a1a"/>
<ellipse cx="294.9" cy="378.4" rx="1.05" ry="0.85" fill="#1a1a1a"/>
<ellipse cx="297.7" cy="378.4" rx="1.05" ry="0.85" fill="#1a1a1a"/>
<path d="M277,389.6 L277,388 L293.8,388 L293.8,389.6" fill="none" stroke="#151515" stroke-width="0.9"/>
<ellipse cx="281.2" cy="385.1" rx="1.05" ry="0.85" fill="#1a1a1a"/>
<ellipse cx="284" cy="385.1" rx="1.05" ry="0.85" fill="#1a1a1a"/>
<ellipse cx="286.8" cy="385.1" rx="1.05" ry="0.85" fill="#1a1a1a"/>
<ellipse cx="289.6" cy="385.1" rx="1.05" ry="0.85" fill="#1a1a1a"/>
<text transform="translate(224.7,468.1) rotate(-45) scale(1,1)" font-size="8" text-anchor="end" fill="#1a1a1a" stroke="#1a1a1a" stroke-width="0.12" >Con</text>
<text transform="translate(240.75,468.1) rotate(-45) scale(1,1)" font-size="8" text-anchor="end" fill="#1a1a1a" stroke="#1a1a1a" stroke-width="0.12" >PLX5</text>
<text transform="translate(257.6,468.1) rotate(-45) scale(1,1)" font-size="8" text-anchor="end" fill="#1a1a1a" stroke="#1a1a1a" stroke-width="0.12" >PLX2</text>
<text transform="translate(280.5,468.1) rotate(-45) scale(1,1)" font-size="8" text-anchor="end" fill="#1a1a1a" stroke="#1a1a1a" stroke-width="0.12" >Con</text>
<text transform="translate(296.7,468.1) rotate(-45) scale(1,1)" font-size="8" text-anchor="end" fill="#1a1a1a" stroke="#1a1a1a" stroke-width="0.12" >PLX5</text>
<text transform="translate(313.5,468.1) rotate(-45) scale(1,1)" font-size="8" text-anchor="end" fill="#1a1a1a" stroke="#1a1a1a" stroke-width="0.12" >PLX2</text>
<circle cx="382.9" cy="345.9" r="2.4" fill="#375aa2" stroke="#111" stroke-width="1.1"/>
<text x="388.4" y="348.7" font-size="7.7" text-anchor="start" font-weight="normal" fill="#1a1a1a" stroke="#1a1a1a" stroke-width="0.12" >PLX2 &amp; WH-539 (V PT)</text>
<rect x="380.55" y="355.15" width="4.7" height="4.7" fill="#5fbf43" stroke="#111" stroke-width="1.1"/>
<text x="388.4" y="360.3" font-size="7.7" text-anchor="start" font-weight="normal" fill="#1a1a1a" stroke="#1a1a1a" stroke-width="0.12" >PLX2 &amp; WH-539 (PLX2 PT)</text>
<rect x="377.5" y="389.8" width="6" height="61.8" fill="#e3e3e6"/>
<rect x="385.5" y="391.04" width="6" height="60.56" fill="#c6c5cc"/>
<rect x="396.1" y="389.8" width="6" height="61.8" fill="#e3e3e6"/>
<rect x="404.1" y="391.65" width="6" height="59.95" fill="#c6c5cc"/>
<rect x="414.4" y="389.8" width="6" height="61.8" fill="#e3e3e6"/>
<rect x="422.4" y="392.89" width="6" height="58.71" fill="#c6c5cc"/>
<rect x="433.3" y="392.27" width="6" height="59.33" fill="#e3e3e6"/>
<rect x="441.3" y="410.81" width="6" height="40.79" fill="#c6c5cc"/>
<rect x="452.1" y="397.83" width="6" height="53.77" fill="#e3e3e6"/>
<rect x="460.1" y="424.41" width="6" height="27.19" fill="#c6c5cc"/>
<rect x="471" y="402.78" width="6" height="48.82" fill="#e3e3e6"/>
<rect x="479" y="441.09" width="6" height="10.51" fill="#c6c5cc"/>
<rect x="492.5" y="441.71" width="6" height="9.89" fill="#e3e3e6"/>
<rect x="500.5" y="446.66" width="6" height="4.94" fill="#c6c5cc"/>
<line x1="374" y1="368.2" x2="374" y2="452.18" stroke="#1a1a1a" stroke-width="1.15" />
<line x1="370.8" y1="377.44" x2="374" y2="377.44" stroke="#1a1a1a" stroke-width="1.05" />
<line x1="370.8" y1="389.8" x2="374" y2="389.8" stroke="#1a1a1a" stroke-width="1.05" />
<text transform="translate(367.8,392.7) scale(1.06,1)" font-size="8.2" text-anchor="end" font-weight="normal" fill="#1a1a1a" stroke="#1a1a1a" stroke-width="0.12" >100</text>
<line x1="370.8" y1="402.16" x2="374" y2="402.16" stroke="#1a1a1a" stroke-width="1.05" />
<text transform="translate(367.8,405.06) scale(1.06,1)" font-size="8.2" text-anchor="end" font-weight="normal" fill="#1a1a1a" stroke="#1a1a1a" stroke-width="0.12" >80</text>
<line x1="370.8" y1="414.52" x2="374" y2="414.52" stroke="#1a1a1a" stroke-width="1.05" />
<text transform="translate(367.8,417.42) scale(1.06,1)" font-size="8.2" text-anchor="end" font-weight="normal" fill="#1a1a1a" stroke="#1a1a1a" stroke-width="0.12" >60</text>
<line x1="370.8" y1="426.88" x2="374" y2="426.88" stroke="#1a1a1a" stroke-width="1.05" />
<text transform="translate(367.8,429.78) scale(1.06,1)" font-size="8.2" text-anchor="end" font-weight="normal" fill="#1a1a1a" stroke="#1a1a1a" stroke-width="0.12" >40</text>
<line x1="370.8" y1="439.24" x2="374" y2="439.24" stroke="#1a1a1a" stroke-width="1.05" />
<text transform="translate(367.8,442.14) scale(1.06,1)" font-size="8.2" text-anchor="end" font-weight="normal" fill="#1a1a1a" stroke="#1a1a1a" stroke-width="0.12" >20</text>
<line x1="370.8" y1="451.6" x2="374" y2="451.6" stroke="#1a1a1a" stroke-width="1.05" />
<text transform="translate(367.8,454.5) scale(1.06,1)" font-size="8.2" text-anchor="end" font-weight="normal" fill="#1a1a1a" stroke="#1a1a1a" stroke-width="0.12" >0</text>
<line x1="374" y1="451.6" x2="487.6" y2="451.6" stroke="#1a1a1a" stroke-width="1.1" />
<line x1="487.6" y1="449.8" x2="487.6" y2="453.4" stroke="#1a1a1a" stroke-width="0.8" />
<line x1="490.4" y1="449.8" x2="490.4" y2="453.4" stroke="#1a1a1a" stroke-width="0.8" />
<line x1="490.4" y1="451.6" x2="507.6" y2="451.6" stroke="#1a1a1a" stroke-width="1.1" />
<line x1="384.5" y1="451.6" x2="384.5" y2="454.1" stroke="#1a1a1a" stroke-width="0.9" />
<line x1="403.1" y1="451.6" x2="403.1" y2="454.1" stroke="#1a1a1a" stroke-width="0.9" />
<line x1="421.4" y1="451.6" x2="421.4" y2="454.1" stroke="#1a1a1a" stroke-width="0.9" />
<line x1="440.3" y1="451.6" x2="440.3" y2="454.1" stroke="#1a1a1a" stroke-width="0.9" />
<line x1="459.1" y1="451.6" x2="459.1" y2="454.1" stroke="#1a1a1a" stroke-width="0.9" />
<line x1="478" y1="451.6" x2="478" y2="454.1" stroke="#1a1a1a" stroke-width="0.9" />
<line x1="499.5" y1="451.6" x2="499.5" y2="454.1" stroke="#1a1a1a" stroke-width="0.9" />
<text x="384.5" y="465.8" font-size="8.2" text-anchor="middle" font-weight="normal" fill="#1a1a1a" stroke="#1a1a1a" stroke-width="0.12" >0</text>
<text x="403.1" y="465.8" font-size="8.2" text-anchor="middle" font-weight="normal" fill="#1a1a1a" stroke="#1a1a1a" stroke-width="0.12" >0.5</text>
<text x="421.4" y="465.8" font-size="8.2" text-anchor="middle" font-weight="normal" fill="#1a1a1a" stroke="#1a1a1a" stroke-width="0.12" >1.5</text>
<text x="440.3" y="465.8" font-size="8.2" text-anchor="middle" font-weight="normal" fill="#1a1a1a" stroke="#1a1a1a" stroke-width="0.12" >3</text>
<text x="459.1" y="465.8" font-size="8.2" text-anchor="middle" font-weight="normal" fill="#1a1a1a" stroke="#1a1a1a" stroke-width="0.12" >5</text>
<text x="478" y="465.8" font-size="8.2" text-anchor="middle" font-weight="normal" fill="#1a1a1a" stroke="#1a1a1a" stroke-width="0.12" >10</text>
<text x="499.5" y="465.8" font-size="8.2" text-anchor="middle" font-weight="normal" fill="#1a1a1a" stroke="#1a1a1a" stroke-width="0.12" >40</text>
<text x="441.8" y="479.3" font-size="9.7" text-anchor="middle" fill="#1a1a1a" stroke="#1a1a1a" stroke-width="0.2" textLength="32.4" lengthAdjust="spacingAndGlyphs">Time (Hrs)</text>
<text transform="translate(346.7,408.1) rotate(-90)" font-size="8.8" text-anchor="middle" fill="#1a1a1a" stroke="#1a1a1a" stroke-width="0.3" textLength="58.2" lengthAdjust="spacingAndGlyphs" >% specific viability</text>
<line x1="496.3" y1="435.4" x2="496.3" y2="448.8" stroke="#1a1a1a" stroke-width="0.8" />
<line x1="494.7" y1="435.4" x2="497.9" y2="435.4" stroke="#1a1a1a" stroke-width="0.8" />
<circle cx="380.2" cy="389.6" r="2.4" fill="#375aa2" stroke="#111" stroke-width="1.1"/>
<circle cx="379.6" cy="389.9" r="2.4" fill="#375aa2" stroke="#111" stroke-width="1.1"/>
<circle cx="380.6" cy="389.3" r="2.4" fill="#375aa2" stroke="#111" stroke-width="1.1"/>
<rect x="385.95" y="388.65" width="4.7" height="4.7" fill="#5fbf43" stroke="#111" stroke-width="1.1"/>
<circle cx="398.3" cy="389.6" r="2.4" fill="#375aa2" stroke="#111" stroke-width="1.1"/>
<circle cx="399.1" cy="390.4" r="2.4" fill="#375aa2" stroke="#111" stroke-width="1.1"/>
<rect x="404.85" y="389.95" width="4.7" height="4.7" fill="#5fbf43" stroke="#111" stroke-width="1.1"/>
<circle cx="417.1" cy="388.3" r="2.4" fill="#375aa2" stroke="#111" stroke-width="1.1"/>
<circle cx="417.1" cy="389.6" r="2.4" fill="#375aa2" stroke="#111" stroke-width="1.1"/>
<circle cx="417.9" cy="390.2" r="2.4" fill="#375aa2" stroke="#111" stroke-width="1.1"/>
<rect x="423.35" y="390.75" width="4.7" height="4.7" fill="#5fbf43" stroke="#111" stroke-width="1.1"/>
<circle cx="436" cy="388.3" r="2.4" fill="#375aa2" stroke="#111" stroke-width="1.1"/>
<circle cx="436.8" cy="390.2" r="2.4" fill="#375aa2" stroke="#111" stroke-width="1.1"/>
<circle cx="436" cy="395" r="2.4" fill="#375aa2" stroke="#111" stroke-width="1.1"/>
<rect x="441.65" y="403.95" width="4.7" height="4.7" fill="#5fbf43" stroke="#111" stroke-width="1.1"/>
<rect x="442.55" y="407.95" width="4.7" height="4.7" fill="#5fbf43" stroke="#111" stroke-width="1.1"/>
<rect x="440.85" y="411.45" width="4.7" height="4.7" fill="#5fbf43" stroke="#111" stroke-width="1.1"/>
<circle cx="455.6" cy="395.8" r="2.4" fill="#375aa2" stroke="#111" stroke-width="1.1"/>
<circle cx="455.4" cy="399.8" r="2.4" fill="#375aa2" stroke="#111" stroke-width="1.1"/>
<circle cx="455.6" cy="397.5" r="2.4" fill="#375aa2" stroke="#111" stroke-width="1.1"/>
<rect x="460.55" y="413.35" width="4.7" height="4.7" fill="#5fbf43" stroke="#111" stroke-width="1.1"/>
<rect x="461.35" y="423.05" width="4.7" height="4.7" fill="#5fbf43" stroke="#111" stroke-width="1.1"/>
<rect x="459.75" y="428.45" width="4.7" height="4.7" fill="#5fbf43" stroke="#111" stroke-width="1.1"/>
<circle cx="473.7" cy="398.5" r="2.4" fill="#375aa2" stroke="#111" stroke-width="1.1"/>
<circle cx="475" cy="400.4" r="2.4" fill="#375aa2" stroke="#111" stroke-width="1.1"/>
<circle cx="473.7" cy="409.8" r="2.4" fill="#375aa2" stroke="#111" stroke-width="1.1"/>
<rect x="479.35" y="432.55" width="4.7" height="4.7" fill="#5fbf43" stroke="#111" stroke-width="1.1"/>
<rect x="478.85" y="441.95" width="4.7" height="4.7" fill="#5fbf43" stroke="#111" stroke-width="1.1"/>
<rect x="480.15" y="442.45" width="4.7" height="4.7" fill="#5fbf43" stroke="#111" stroke-width="1.1"/>
<circle cx="496.5" cy="430.5" r="2.4" fill="#375aa2" stroke="#111" stroke-width="1.1"/>
<circle cx="496" cy="446.2" r="2.4" fill="#375aa2" stroke="#111" stroke-width="1.1"/>
<circle cx="496.5" cy="447.5" r="2.4" fill="#375aa2" stroke="#111" stroke-width="1.1"/>
<rect x="500.95" y="443.25" width="4.7" height="4.7" fill="#5fbf43" stroke="#111" stroke-width="1.1"/>
<rect x="501.45" y="445.95" width="4.7" height="4.7" fill="#5fbf43" stroke="#111" stroke-width="1.1"/>
<path d="M380.2,385 L380.2,383.4 L388.3,383.4 L388.3,385" fill="none" stroke="#151515" stroke-width="0.9"/>
<text x="384.25" y="382" font-size="7.2" text-anchor="middle" font-weight="normal" fill="#1a1a1a" stroke="#1a1a1a" stroke-width="0.05" >ns</text>
<path d="M398.3,385 L398.3,383.4 L407.2,383.4 L407.2,385" fill="none" stroke="#151515" stroke-width="0.9"/>
<text x="402.75" y="382" font-size="7.2" text-anchor="middle" font-weight="normal" fill="#1a1a1a" stroke="#1a1a1a" stroke-width="0.05" >ns</text>
<path d="M417.1,383.1 L417.1,381.5 L425.7,381.5 L425.7,383.1" fill="none" stroke="#151515" stroke-width="0.9"/>
<text x="421.4" y="380.1" font-size="7.2" text-anchor="middle" font-weight="normal" fill="#1a1a1a" stroke="#1a1a1a" stroke-width="0.05" >ns</text>
<path d="M436,383.1 L436,381.5 L444.4,381.5 L444.4,383.1" fill="none" stroke="#151515" stroke-width="0.9"/>
<ellipse cx="437.4" cy="378.6" rx="1.05" ry="0.85" fill="#1a1a1a"/>
<ellipse cx="440.2" cy="378.6" rx="1.05" ry="0.85" fill="#1a1a1a"/>
<ellipse cx="443" cy="378.6" rx="1.05" ry="0.85" fill="#1a1a1a"/>
<path d="M455.4,390.4 L455.4,388.8 L463.7,388.8 L463.7,390.4" fill="none" stroke="#151515" stroke-width="0.9"/>
<ellipse cx="455.35" cy="385.9" rx="1.05" ry="0.85" fill="#1a1a1a"/>
<ellipse cx="458.15" cy="385.9" rx="1.05" ry="0.85" fill="#1a1a1a"/>
<ellipse cx="460.95" cy="385.9" rx="1.05" ry="0.85" fill="#1a1a1a"/>
<ellipse cx="463.75" cy="385.9" rx="1.05" ry="0.85" fill="#1a1a1a"/>
<path d="M473.7,390.4 L473.7,388.8 L482.2,388.8 L482.2,390.4" fill="none" stroke="#151515" stroke-width="0.9"/>
<ellipse cx="473.75" cy="385.9" rx="1.05" ry="0.85" fill="#1a1a1a"/>
<ellipse cx="476.55" cy="385.9" rx="1.05" ry="0.85" fill="#1a1a1a"/>
<ellipse cx="479.35" cy="385.9" rx="1.05" ry="0.85" fill="#1a1a1a"/>
<ellipse cx="482.15" cy="385.9" rx="1.05" ry="0.85" fill="#1a1a1a"/>
<path d="M496.3,426.2 L496.3,424.6 L503.6,424.6 L503.6,426.2" fill="none" stroke="#151515" stroke-width="0.9"/>
<text x="499.95" y="423.2" font-size="7.2" text-anchor="middle" font-weight="normal" fill="#1a1a1a" stroke="#1a1a1a" stroke-width="0.05" >ns</text>
<rect x="0.5" y="0.5" width="519" height="489" fill="none" stroke="#000" stroke-width="1.2"/>
</svg></body></html>
